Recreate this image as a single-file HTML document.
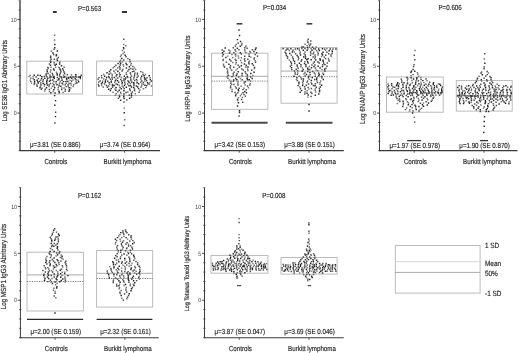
<!DOCTYPE html>
<html><head><meta charset="utf-8"><style>
html,body{margin:0;padding:0;background:#fff;}
svg{display:block;font-family:"Liberation Sans", sans-serif;filter:blur(0.42px);}
text{stroke:#333;stroke-width:0.15px;text-rendering:geometricPrecision;}
text.t{stroke:none;}
</style></head><body>
<svg width="520" height="353" viewBox="0 0 520 353">
<rect width="520" height="353" fill="#fff"/>
<line x1="20.0" y1="0.66" x2="20.0" y2="151.08" stroke="#5a5a5a" stroke-width="1.6"/>
<line x1="18.6" y1="150.58" x2="20.9" y2="150.58" stroke="#3a3a3a" stroke-width="0.7"/>
<line x1="18.6" y1="141.21" x2="20.9" y2="141.21" stroke="#3a3a3a" stroke-width="0.7"/>
<line x1="18.6" y1="131.84" x2="20.9" y2="131.84" stroke="#3a3a3a" stroke-width="0.7"/>
<line x1="18.6" y1="122.47" x2="20.9" y2="122.47" stroke="#3a3a3a" stroke-width="0.7"/>
<line x1="17.4" y1="113.10" x2="20.0" y2="113.10" stroke="#3a3a3a" stroke-width="0.9"/>
<line x1="18.6" y1="103.73" x2="20.9" y2="103.73" stroke="#3a3a3a" stroke-width="0.7"/>
<line x1="18.6" y1="94.36" x2="20.9" y2="94.36" stroke="#3a3a3a" stroke-width="0.7"/>
<line x1="18.6" y1="84.99" x2="20.9" y2="84.99" stroke="#3a3a3a" stroke-width="0.7"/>
<line x1="18.6" y1="75.62" x2="20.9" y2="75.62" stroke="#3a3a3a" stroke-width="0.7"/>
<line x1="17.4" y1="66.25" x2="20.0" y2="66.25" stroke="#3a3a3a" stroke-width="0.9"/>
<line x1="18.6" y1="56.88" x2="20.9" y2="56.88" stroke="#3a3a3a" stroke-width="0.7"/>
<line x1="18.6" y1="47.51" x2="20.9" y2="47.51" stroke="#3a3a3a" stroke-width="0.7"/>
<line x1="18.6" y1="38.14" x2="20.9" y2="38.14" stroke="#3a3a3a" stroke-width="0.7"/>
<line x1="18.6" y1="28.77" x2="20.9" y2="28.77" stroke="#3a3a3a" stroke-width="0.7"/>
<line x1="17.4" y1="19.40" x2="20.0" y2="19.40" stroke="#3a3a3a" stroke-width="0.9"/>
<line x1="18.6" y1="10.03" x2="20.9" y2="10.03" stroke="#3a3a3a" stroke-width="0.7"/>
<line x1="18.6" y1="0.66" x2="20.9" y2="0.66" stroke="#3a3a3a" stroke-width="0.7"/>
<text class="t" transform="translate(16.60,115.30) scale(1,1.18)" text-anchor="end" font-size="5.2" fill="#3a3a3a">0</text>
<text class="t" transform="translate(16.60,68.45) scale(1,1.18)" text-anchor="end" font-size="5.2" fill="#3a3a3a">5</text>
<text class="t" transform="translate(16.60,21.60) scale(1,1.18)" text-anchor="end" font-size="5.2" fill="#3a3a3a">10</text>
<line x1="19.5" y1="150.58" x2="160.0" y2="150.58" stroke="#3a3a3a" stroke-width="1.1"/>
<line x1="54.70" y1="150.58" x2="54.70" y2="152.78" stroke="#3a3a3a" stroke-width="0.8"/>
<line x1="124.50" y1="150.58" x2="124.50" y2="152.78" stroke="#3a3a3a" stroke-width="0.8"/>
<text transform="translate(55.90,164.20) scale(1,1.18)" text-anchor="middle" font-size="6.2" fill="#222">Controls</text>
<text transform="translate(127.50,164.20) scale(1,1.18)" text-anchor="middle" font-size="6.2" fill="#222">Burkitt lymphoma</text>
<text transform="translate(89.50,10.72) scale(1,1.18)" text-anchor="middle" font-size="6.2" fill="#222">P=0.563</text>
<text transform="translate(55.30,147.22) scale(1,1.18)" text-anchor="middle" font-size="6.2" fill="#222">μ=3.81 (SE 0.886)</text>
<text transform="translate(125.10,147.22) scale(1,1.18)" text-anchor="middle" font-size="6.2" fill="#222">μ=3.74 (SE 0.964)</text>
<text transform="translate(7.16,80.70) rotate(-90) scale(1,1.18)" text-anchor="middle" font-size="6.1" fill="#222">Log SE36 IgG1 Abritrary Units</text>
<line x1="204.5" y1="0.66" x2="204.5" y2="151.08" stroke="#3a3a3a" stroke-width="1.0"/>
<line x1="203.1" y1="150.58" x2="205.4" y2="150.58" stroke="#3a3a3a" stroke-width="0.7"/>
<line x1="203.1" y1="141.21" x2="205.4" y2="141.21" stroke="#3a3a3a" stroke-width="0.7"/>
<line x1="203.1" y1="131.84" x2="205.4" y2="131.84" stroke="#3a3a3a" stroke-width="0.7"/>
<line x1="203.1" y1="122.47" x2="205.4" y2="122.47" stroke="#3a3a3a" stroke-width="0.7"/>
<line x1="201.9" y1="113.10" x2="204.5" y2="113.10" stroke="#3a3a3a" stroke-width="0.9"/>
<line x1="203.1" y1="103.73" x2="205.4" y2="103.73" stroke="#3a3a3a" stroke-width="0.7"/>
<line x1="203.1" y1="94.36" x2="205.4" y2="94.36" stroke="#3a3a3a" stroke-width="0.7"/>
<line x1="203.1" y1="84.99" x2="205.4" y2="84.99" stroke="#3a3a3a" stroke-width="0.7"/>
<line x1="203.1" y1="75.62" x2="205.4" y2="75.62" stroke="#3a3a3a" stroke-width="0.7"/>
<line x1="201.9" y1="66.25" x2="204.5" y2="66.25" stroke="#3a3a3a" stroke-width="0.9"/>
<line x1="203.1" y1="56.88" x2="205.4" y2="56.88" stroke="#3a3a3a" stroke-width="0.7"/>
<line x1="203.1" y1="47.51" x2="205.4" y2="47.51" stroke="#3a3a3a" stroke-width="0.7"/>
<line x1="203.1" y1="38.14" x2="205.4" y2="38.14" stroke="#3a3a3a" stroke-width="0.7"/>
<line x1="203.1" y1="28.77" x2="205.4" y2="28.77" stroke="#3a3a3a" stroke-width="0.7"/>
<line x1="201.9" y1="19.40" x2="204.5" y2="19.40" stroke="#3a3a3a" stroke-width="0.9"/>
<line x1="203.1" y1="10.03" x2="205.4" y2="10.03" stroke="#3a3a3a" stroke-width="0.7"/>
<line x1="203.1" y1="0.66" x2="205.4" y2="0.66" stroke="#3a3a3a" stroke-width="0.7"/>
<text class="t" transform="translate(201.10,115.30) scale(1,1.18)" text-anchor="end" font-size="5.2" fill="#3a3a3a">0</text>
<text class="t" transform="translate(201.10,68.45) scale(1,1.18)" text-anchor="end" font-size="5.2" fill="#3a3a3a">5</text>
<text class="t" transform="translate(201.10,21.60) scale(1,1.18)" text-anchor="end" font-size="5.2" fill="#3a3a3a">10</text>
<line x1="204.0" y1="150.58" x2="343.8" y2="150.58" stroke="#3a3a3a" stroke-width="1.1"/>
<line x1="239.20" y1="150.58" x2="239.20" y2="152.78" stroke="#3a3a3a" stroke-width="0.8"/>
<line x1="309.00" y1="150.58" x2="309.00" y2="152.78" stroke="#3a3a3a" stroke-width="0.8"/>
<text transform="translate(240.40,164.20) scale(1,1.18)" text-anchor="middle" font-size="6.2" fill="#222">Controls</text>
<text transform="translate(312.00,164.20) scale(1,1.18)" text-anchor="middle" font-size="6.2" fill="#222">Burkitt lymphoma</text>
<text transform="translate(274.60,10.22) scale(1,1.18)" text-anchor="middle" font-size="6.2" fill="#222">P=0.034</text>
<text transform="translate(239.80,147.32) scale(1,1.18)" text-anchor="middle" font-size="6.2" fill="#222">μ=3.42 (SE 0.153)</text>
<text transform="translate(309.60,147.32) scale(1,1.18)" text-anchor="middle" font-size="6.2" fill="#222">μ=3.88 (SE 0.151)</text>
<text transform="translate(189.69,78.60) rotate(-90) scale(1,1.18)" text-anchor="middle" font-size="6.2" fill="#222">Log HRP-II IgG3 Abritrary Units</text>
<line x1="379.5" y1="0.66" x2="379.5" y2="151.08" stroke="#3a3a3a" stroke-width="1.0"/>
<line x1="378.1" y1="150.58" x2="380.4" y2="150.58" stroke="#3a3a3a" stroke-width="0.7"/>
<line x1="378.1" y1="141.21" x2="380.4" y2="141.21" stroke="#3a3a3a" stroke-width="0.7"/>
<line x1="378.1" y1="131.84" x2="380.4" y2="131.84" stroke="#3a3a3a" stroke-width="0.7"/>
<line x1="378.1" y1="122.47" x2="380.4" y2="122.47" stroke="#3a3a3a" stroke-width="0.7"/>
<line x1="376.9" y1="113.10" x2="379.5" y2="113.10" stroke="#3a3a3a" stroke-width="0.9"/>
<line x1="378.1" y1="103.73" x2="380.4" y2="103.73" stroke="#3a3a3a" stroke-width="0.7"/>
<line x1="378.1" y1="94.36" x2="380.4" y2="94.36" stroke="#3a3a3a" stroke-width="0.7"/>
<line x1="378.1" y1="84.99" x2="380.4" y2="84.99" stroke="#3a3a3a" stroke-width="0.7"/>
<line x1="378.1" y1="75.62" x2="380.4" y2="75.62" stroke="#3a3a3a" stroke-width="0.7"/>
<line x1="376.9" y1="66.25" x2="379.5" y2="66.25" stroke="#3a3a3a" stroke-width="0.9"/>
<line x1="378.1" y1="56.88" x2="380.4" y2="56.88" stroke="#3a3a3a" stroke-width="0.7"/>
<line x1="378.1" y1="47.51" x2="380.4" y2="47.51" stroke="#3a3a3a" stroke-width="0.7"/>
<line x1="378.1" y1="38.14" x2="380.4" y2="38.14" stroke="#3a3a3a" stroke-width="0.7"/>
<line x1="378.1" y1="28.77" x2="380.4" y2="28.77" stroke="#3a3a3a" stroke-width="0.7"/>
<line x1="376.9" y1="19.40" x2="379.5" y2="19.40" stroke="#3a3a3a" stroke-width="0.9"/>
<line x1="378.1" y1="10.03" x2="380.4" y2="10.03" stroke="#3a3a3a" stroke-width="0.7"/>
<line x1="378.1" y1="0.66" x2="380.4" y2="0.66" stroke="#3a3a3a" stroke-width="0.7"/>
<text class="t" transform="translate(376.10,115.30) scale(1,1.18)" text-anchor="end" font-size="5.2" fill="#3a3a3a">0</text>
<text class="t" transform="translate(376.10,68.45) scale(1,1.18)" text-anchor="end" font-size="5.2" fill="#3a3a3a">5</text>
<text class="t" transform="translate(376.10,21.60) scale(1,1.18)" text-anchor="end" font-size="5.2" fill="#3a3a3a">10</text>
<line x1="379.0" y1="150.58" x2="517.5" y2="150.58" stroke="#3a3a3a" stroke-width="1.1"/>
<line x1="414.20" y1="150.58" x2="414.20" y2="152.78" stroke="#3a3a3a" stroke-width="0.8"/>
<line x1="484.00" y1="150.58" x2="484.00" y2="152.78" stroke="#3a3a3a" stroke-width="0.8"/>
<text transform="translate(415.40,164.20) scale(1,1.18)" text-anchor="middle" font-size="6.2" fill="#222">Controls</text>
<text transform="translate(487.00,164.20) scale(1,1.18)" text-anchor="middle" font-size="6.2" fill="#222">Burkitt lymphoma</text>
<text transform="translate(450.10,10.12) scale(1,1.18)" text-anchor="middle" font-size="6.2" fill="#222">P=0.606</text>
<text transform="translate(414.80,148.32) scale(1,1.18)" text-anchor="middle" font-size="6.2" fill="#222">μ=1.97 (SE 0.978)</text>
<text transform="translate(484.60,148.32) scale(1,1.18)" text-anchor="middle" font-size="6.2" fill="#222">μ=1.90 (SE 0.870)</text>
<text transform="translate(365.13,79.00) rotate(-90) scale(1,1.18)" text-anchor="middle" font-size="6.3" fill="#222">Log 6NANP IgG3 Abritrary Units</text>
<line x1="20.4" y1="187.76" x2="20.4" y2="338.18" stroke="#3a3a3a" stroke-width="1.0"/>
<line x1="19.0" y1="337.68" x2="21.299999999999997" y2="337.68" stroke="#3a3a3a" stroke-width="0.7"/>
<line x1="19.0" y1="328.31" x2="21.299999999999997" y2="328.31" stroke="#3a3a3a" stroke-width="0.7"/>
<line x1="19.0" y1="318.94" x2="21.299999999999997" y2="318.94" stroke="#3a3a3a" stroke-width="0.7"/>
<line x1="19.0" y1="309.57" x2="21.299999999999997" y2="309.57" stroke="#3a3a3a" stroke-width="0.7"/>
<line x1="17.799999999999997" y1="300.20" x2="20.4" y2="300.20" stroke="#3a3a3a" stroke-width="0.9"/>
<line x1="19.0" y1="290.83" x2="21.299999999999997" y2="290.83" stroke="#3a3a3a" stroke-width="0.7"/>
<line x1="19.0" y1="281.46" x2="21.299999999999997" y2="281.46" stroke="#3a3a3a" stroke-width="0.7"/>
<line x1="19.0" y1="272.09" x2="21.299999999999997" y2="272.09" stroke="#3a3a3a" stroke-width="0.7"/>
<line x1="19.0" y1="262.72" x2="21.299999999999997" y2="262.72" stroke="#3a3a3a" stroke-width="0.7"/>
<line x1="17.799999999999997" y1="253.35" x2="20.4" y2="253.35" stroke="#3a3a3a" stroke-width="0.9"/>
<line x1="19.0" y1="243.98" x2="21.299999999999997" y2="243.98" stroke="#3a3a3a" stroke-width="0.7"/>
<line x1="19.0" y1="234.61" x2="21.299999999999997" y2="234.61" stroke="#3a3a3a" stroke-width="0.7"/>
<line x1="19.0" y1="225.24" x2="21.299999999999997" y2="225.24" stroke="#3a3a3a" stroke-width="0.7"/>
<line x1="19.0" y1="215.87" x2="21.299999999999997" y2="215.87" stroke="#3a3a3a" stroke-width="0.7"/>
<line x1="17.799999999999997" y1="206.50" x2="20.4" y2="206.50" stroke="#3a3a3a" stroke-width="0.9"/>
<line x1="19.0" y1="197.13" x2="21.299999999999997" y2="197.13" stroke="#3a3a3a" stroke-width="0.7"/>
<line x1="19.0" y1="187.76" x2="21.299999999999997" y2="187.76" stroke="#3a3a3a" stroke-width="0.7"/>
<text class="t" transform="translate(17.00,302.40) scale(1,1.18)" text-anchor="end" font-size="5.2" fill="#3a3a3a">0</text>
<text class="t" transform="translate(17.00,255.55) scale(1,1.18)" text-anchor="end" font-size="5.2" fill="#3a3a3a">5</text>
<text class="t" transform="translate(17.00,208.70) scale(1,1.18)" text-anchor="end" font-size="5.2" fill="#3a3a3a">10</text>
<line x1="19.9" y1="337.68" x2="158.7" y2="337.68" stroke="#3a3a3a" stroke-width="1.1"/>
<line x1="55.10" y1="337.68" x2="55.10" y2="339.88" stroke="#3a3a3a" stroke-width="0.8"/>
<line x1="124.90" y1="337.68" x2="124.90" y2="339.88" stroke="#3a3a3a" stroke-width="0.8"/>
<text transform="translate(56.30,351.30) scale(1,1.18)" text-anchor="middle" font-size="6.2" fill="#222">Controls</text>
<text transform="translate(127.90,351.30) scale(1,1.18)" text-anchor="middle" font-size="6.2" fill="#222">Burkitt lymphoma</text>
<text transform="translate(89.50,198.02) scale(1,1.18)" text-anchor="middle" font-size="6.2" fill="#222">P=0.162</text>
<text transform="translate(55.70,334.42) scale(1,1.18)" text-anchor="middle" font-size="6.2" fill="#222">μ=2.00 (SE 0.159)</text>
<text transform="translate(125.50,334.42) scale(1,1.18)" text-anchor="middle" font-size="6.2" fill="#222">μ=2.32 (SE 0.161)</text>
<text transform="translate(5.81,266.60) rotate(-90) scale(1,1.18)" text-anchor="middle" font-size="6.25" fill="#222">Log MSP1 IgG3 Abritrary Units</text>
<line x1="204.5" y1="187.76" x2="204.5" y2="338.18" stroke="#3a3a3a" stroke-width="1.0"/>
<line x1="203.1" y1="337.68" x2="205.4" y2="337.68" stroke="#3a3a3a" stroke-width="0.7"/>
<line x1="203.1" y1="328.31" x2="205.4" y2="328.31" stroke="#3a3a3a" stroke-width="0.7"/>
<line x1="203.1" y1="318.94" x2="205.4" y2="318.94" stroke="#3a3a3a" stroke-width="0.7"/>
<line x1="203.1" y1="309.57" x2="205.4" y2="309.57" stroke="#3a3a3a" stroke-width="0.7"/>
<line x1="201.9" y1="300.20" x2="204.5" y2="300.20" stroke="#3a3a3a" stroke-width="0.9"/>
<line x1="203.1" y1="290.83" x2="205.4" y2="290.83" stroke="#3a3a3a" stroke-width="0.7"/>
<line x1="203.1" y1="281.46" x2="205.4" y2="281.46" stroke="#3a3a3a" stroke-width="0.7"/>
<line x1="203.1" y1="272.09" x2="205.4" y2="272.09" stroke="#3a3a3a" stroke-width="0.7"/>
<line x1="203.1" y1="262.72" x2="205.4" y2="262.72" stroke="#3a3a3a" stroke-width="0.7"/>
<line x1="201.9" y1="253.35" x2="204.5" y2="253.35" stroke="#3a3a3a" stroke-width="0.9"/>
<line x1="203.1" y1="243.98" x2="205.4" y2="243.98" stroke="#3a3a3a" stroke-width="0.7"/>
<line x1="203.1" y1="234.61" x2="205.4" y2="234.61" stroke="#3a3a3a" stroke-width="0.7"/>
<line x1="203.1" y1="225.24" x2="205.4" y2="225.24" stroke="#3a3a3a" stroke-width="0.7"/>
<line x1="203.1" y1="215.87" x2="205.4" y2="215.87" stroke="#3a3a3a" stroke-width="0.7"/>
<line x1="201.9" y1="206.50" x2="204.5" y2="206.50" stroke="#3a3a3a" stroke-width="0.9"/>
<line x1="203.1" y1="197.13" x2="205.4" y2="197.13" stroke="#3a3a3a" stroke-width="0.7"/>
<line x1="203.1" y1="187.76" x2="205.4" y2="187.76" stroke="#3a3a3a" stroke-width="0.7"/>
<text class="t" transform="translate(201.10,302.40) scale(1,1.18)" text-anchor="end" font-size="5.2" fill="#3a3a3a">0</text>
<text class="t" transform="translate(201.10,255.55) scale(1,1.18)" text-anchor="end" font-size="5.2" fill="#3a3a3a">5</text>
<text class="t" transform="translate(201.10,208.70) scale(1,1.18)" text-anchor="end" font-size="5.2" fill="#3a3a3a">10</text>
<line x1="204.0" y1="337.68" x2="343.8" y2="337.68" stroke="#3a3a3a" stroke-width="1.1"/>
<line x1="239.20" y1="337.68" x2="239.20" y2="339.88" stroke="#3a3a3a" stroke-width="0.8"/>
<line x1="309.00" y1="337.68" x2="309.00" y2="339.88" stroke="#3a3a3a" stroke-width="0.8"/>
<text transform="translate(240.40,351.30) scale(1,1.18)" text-anchor="middle" font-size="6.2" fill="#222">Controls</text>
<text transform="translate(312.00,351.30) scale(1,1.18)" text-anchor="middle" font-size="6.2" fill="#222">Burkitt lymphoma</text>
<text transform="translate(273.80,197.92) scale(1,1.18)" text-anchor="middle" font-size="6.2" fill="#222">P=0.008</text>
<text transform="translate(239.80,334.02) scale(1,1.18)" text-anchor="middle" font-size="6.2" fill="#222">μ=3.87 (SE 0.047)</text>
<text transform="translate(309.60,334.02) scale(1,1.18)" text-anchor="middle" font-size="6.2" fill="#222">μ=3.69 (SE 0.046)</text>
<text transform="translate(189.33,263.50) rotate(-90) scale(1,1.18)" text-anchor="middle" font-size="5.45" fill="#222">Log Tetanus Toxoid IgG3 Abritrary Units</text>
<rect x="26.8" y="61.2" width="55.80" height="32.80" fill="none" stroke="#b4b4b4" stroke-width="0.9"/>
<rect x="96.6" y="61.1" width="55.90" height="34.30" fill="none" stroke="#b4b4b4" stroke-width="0.9"/>
<rect x="211.5" y="53.2" width="56.40" height="56.10" fill="none" stroke="#b4b4b4" stroke-width="0.9"/>
<line x1="211.5" y1="76.3" x2="267.9" y2="76.3" stroke="#a0a0a0" stroke-width="0.9"/>
<line x1="211.5" y1="81.1" x2="267.9" y2="81.1" stroke="#777" stroke-width="0.9" stroke-dasharray="1.3 1.1"/>
<rect x="281.0" y="47.6" width="56.10" height="55.60" fill="none" stroke="#b4b4b4" stroke-width="0.9"/>
<line x1="281.0" y1="71.1" x2="337.1" y2="71.1" stroke="#a0a0a0" stroke-width="0.9"/>
<line x1="281.0" y1="76.7" x2="337.1" y2="76.7" stroke="#777" stroke-width="0.9" stroke-dasharray="1.3 1.1"/>
<rect x="386.5" y="77.0" width="56.70" height="35.20" fill="none" stroke="#b4b4b4" stroke-width="0.9"/>
<rect x="456.3" y="80.6" width="55.90" height="30.50" fill="none" stroke="#b4b4b4" stroke-width="0.9"/>
<rect x="27.0" y="252.2" width="56.40" height="58.80" fill="none" stroke="#b4b4b4" stroke-width="0.9"/>
<line x1="27.0" y1="274.9" x2="83.4" y2="274.9" stroke="#a0a0a0" stroke-width="0.9"/>
<line x1="27.0" y1="281.5" x2="83.4" y2="281.5" stroke="#777" stroke-width="0.9" stroke-dasharray="1.3 1.1"/>
<rect x="96.6" y="250.6" width="56.10" height="56.50" fill="none" stroke="#b4b4b4" stroke-width="0.9"/>
<line x1="96.6" y1="273.3" x2="152.7" y2="273.3" stroke="#a0a0a0" stroke-width="0.9"/>
<line x1="96.6" y1="278.5" x2="152.7" y2="278.5" stroke="#777" stroke-width="0.9" stroke-dasharray="1.3 1.1"/>
<rect x="211.0" y="255.4" width="56.90" height="17.80" fill="none" stroke="#b4b4b4" stroke-width="0.9"/>
<rect x="281.0" y="257.5" width="56.10" height="16.60" fill="none" stroke="#b4b4b4" stroke-width="0.9"/>
<line x1="211.5" y1="122.8" x2="267.6" y2="122.8" stroke="#4a4a4a" stroke-width="1.9"/>
<line x1="285.8" y1="122.8" x2="332.5" y2="122.8" stroke="#4a4a4a" stroke-width="1.9"/>
<line x1="27.0" y1="319.4" x2="83.2" y2="319.4" stroke="#2a2a2a" stroke-width="1.4"/>
<line x1="96.6" y1="319.4" x2="152.4" y2="319.4" stroke="#2a2a2a" stroke-width="1.4"/>
<line x1="407.2" y1="140.6" x2="421.1" y2="140.6" stroke="#333" stroke-width="1.3"/>
<line x1="479.9" y1="140.6" x2="488.0" y2="140.6" stroke="#333" stroke-width="1.3"/>
<line x1="52.9" y1="12.0" x2="56.7" y2="12.0" stroke="#333" stroke-width="2.0"/>
<line x1="121.9" y1="12.0" x2="127.0" y2="12.0" stroke="#333" stroke-width="2.0"/>
<line x1="236.6" y1="23.8" x2="242.4" y2="23.8" stroke="#444" stroke-width="1.6"/>
<line x1="306.5" y1="23.8" x2="312.3" y2="23.8" stroke="#444" stroke-width="1.6"/>
<line x1="237.0" y1="285.6" x2="241.2" y2="285.6" stroke="#555" stroke-width="1.3"/>
<line x1="307.6" y1="285.6" x2="311.2" y2="285.6" stroke="#555" stroke-width="1.3"/>
<rect x="395.3" y="245.5" width="84.8" height="47.6" fill="none" stroke="#b4b4b4" stroke-width="0.9"/>
<line x1="395.3" y1="261.7" x2="480.1" y2="261.7" stroke="#d2d2d2" stroke-width="0.9"/>
<line x1="395.3" y1="272.4" x2="480.1" y2="272.4" stroke="#a0a0a0" stroke-width="0.9"/>
<text transform="translate(485.00,248.20) scale(1,1.18)" text-anchor="start" font-size="6.4" fill="#222">1 SD</text>
<text transform="translate(485.00,265.70) scale(1,1.18)" text-anchor="start" font-size="6.4" fill="#222">Mean</text>
<text transform="translate(485.00,275.80) scale(1,1.18)" text-anchor="start" font-size="6.4" fill="#222">50%</text>
<text transform="translate(485.00,295.70) scale(1,1.18)" text-anchor="start" font-size="6.4" fill="#222">-1 SD</text>
<path d="M54.1 43.7h1.45v1.45h-1.45zM54.0 47.0h1.45v1.45h-1.45zM56.6 50.2h1.45v1.45h-1.45zM52.2 52.2h1.45v1.45h-1.45zM55.7 54.0h1.45v1.45h-1.45zM55.5 55.0h1.45v1.45h-1.45zM49.9 56.7h1.45v1.45h-1.45zM56.5 58.2h1.45v1.45h-1.45zM56.7 59.9h1.45v1.45h-1.45zM50.0 61.6h1.45v1.45h-1.45zM55.6 63.6h1.45v1.45h-1.45zM58.9 63.2h1.45v1.45h-1.45zM54.4 64.6h1.45v1.45h-1.45zM60.8 65.1h1.45v1.45h-1.45zM47.2 66.7h1.45v1.45h-1.45zM52.9 68.2h1.45v1.45h-1.45zM59.2 68.3h1.45v1.45h-1.45zM46.4 69.3h1.45v1.45h-1.45zM53.5 69.4h1.45v1.45h-1.45zM59.8 69.4h1.45v1.45h-1.45zM46.5 71.0h1.45v1.45h-1.45zM63.3 71.2h1.45v1.45h-1.45zM45.5 73.2h1.45v1.45h-1.45zM56.3 72.9h1.45v1.45h-1.45zM33.6 74.5h1.45v1.45h-1.45zM37.2 74.6h1.45v1.45h-1.45zM39.6 74.8h1.45v1.45h-1.45zM49.3 74.4h1.45v1.45h-1.45zM56.6 74.2h1.45v1.45h-1.45zM58.9 74.3h1.45v1.45h-1.45zM75.1 74.1h1.45v1.45h-1.45zM41.2 76.1h1.45v1.45h-1.45zM50.0 76.3h1.45v1.45h-1.45zM53.3 75.7h1.45v1.45h-1.45zM63.7 76.1h1.45v1.45h-1.45zM75.2 75.8h1.45v1.45h-1.45zM79.8 76.1h1.45v1.45h-1.45zM40.8 77.9h1.45v1.45h-1.45zM44.1 77.5h1.45v1.45h-1.45zM47.1 77.6h1.45v1.45h-1.45zM53.5 77.5h1.45v1.45h-1.45zM58.1 78.0h1.45v1.45h-1.45zM65.8 78.0h1.45v1.45h-1.45zM67.8 77.5h1.45v1.45h-1.45zM71.0 77.5h1.45v1.45h-1.45zM74.4 77.8h1.45v1.45h-1.45zM33.5 79.0h1.45v1.45h-1.45zM36.4 79.6h1.45v1.45h-1.45zM46.5 79.2h1.45v1.45h-1.45zM49.8 79.6h1.45v1.45h-1.45zM52.1 79.2h1.45v1.45h-1.45zM58.1 79.0h1.45v1.45h-1.45zM61.3 79.6h1.45v1.45h-1.45zM33.9 80.8h1.45v1.45h-1.45zM46.0 80.7h1.45v1.45h-1.45zM48.8 80.6h1.45v1.45h-1.45zM55.4 80.9h1.45v1.45h-1.45zM62.8 80.9h1.45v1.45h-1.45zM65.2 80.9h1.45v1.45h-1.45zM67.2 80.8h1.45v1.45h-1.45zM77.9 81.0h1.45v1.45h-1.45zM33.8 82.5h1.45v1.45h-1.45zM37.5 82.2h1.45v1.45h-1.45zM42.5 82.7h1.45v1.45h-1.45zM46.1 82.5h1.45v1.45h-1.45zM61.5 82.5h1.45v1.45h-1.45zM76.1 82.2h1.45v1.45h-1.45zM40.2 84.3h1.45v1.45h-1.45zM43.8 83.8h1.45v1.45h-1.45zM46.5 84.2h1.45v1.45h-1.45zM48.4 84.3h1.45v1.45h-1.45zM53.2 83.9h1.45v1.45h-1.45zM56.3 84.0h1.45v1.45h-1.45zM58.4 84.4h1.45v1.45h-1.45zM36.4 85.3h1.45v1.45h-1.45zM60.1 85.6h1.45v1.45h-1.45zM67.4 85.4h1.45v1.45h-1.45zM39.3 87.0h1.45v1.45h-1.45zM45.8 87.0h1.45v1.45h-1.45zM53.9 87.0h1.45v1.45h-1.45zM68.4 87.1h1.45v1.45h-1.45zM53.2 89.1h1.45v1.45h-1.45zM68.8 89.0h1.45v1.45h-1.45zM58.3 90.5h1.45v1.45h-1.45zM64.5 90.4h1.45v1.45h-1.45zM68.2 90.6h1.45v1.45h-1.45zM50.1 92.0h1.45v1.45h-1.45zM54.4 92.2h1.45v1.45h-1.45zM58.5 92.0h1.45v1.45h-1.45zM53.9 94.9h1.45v1.45h-1.45zM54.8 99.9h1.45v1.45h-1.45zM54.1 104.5h1.45v1.45h-1.45zM54.7 115.9h1.45v1.45h-1.45zM122.8 46.9h1.45v1.45h-1.45zM124.5 54.5h1.45v1.45h-1.45zM121.1 57.8h1.45v1.45h-1.45zM117.4 62.8h1.45v1.45h-1.45zM119.9 62.6h1.45v1.45h-1.45zM125.3 62.8h1.45v1.45h-1.45zM119.5 64.3h1.45v1.45h-1.45zM126.1 64.1h1.45v1.45h-1.45zM128.6 66.0h1.45v1.45h-1.45zM119.3 67.2h1.45v1.45h-1.45zM125.7 67.2h1.45v1.45h-1.45zM110.0 69.1h1.45v1.45h-1.45zM128.3 68.8h1.45v1.45h-1.45zM108.8 70.7h1.45v1.45h-1.45zM113.2 70.4h1.45v1.45h-1.45zM117.1 70.6h1.45v1.45h-1.45zM127.1 70.4h1.45v1.45h-1.45zM106.3 72.0h1.45v1.45h-1.45zM129.7 72.2h1.45v1.45h-1.45zM108.4 73.6h1.45v1.45h-1.45zM116.1 74.0h1.45v1.45h-1.45zM119.3 74.0h1.45v1.45h-1.45zM103.9 75.6h1.45v1.45h-1.45zM123.6 75.6h1.45v1.45h-1.45zM126.5 75.7h1.45v1.45h-1.45zM141.0 75.5h1.45v1.45h-1.45zM143.4 75.1h1.45v1.45h-1.45zM148.5 75.1h1.45v1.45h-1.45zM105.9 76.8h1.45v1.45h-1.45zM108.4 76.8h1.45v1.45h-1.45zM113.7 76.7h1.45v1.45h-1.45zM124.9 77.3h1.45v1.45h-1.45zM143.8 76.9h1.45v1.45h-1.45zM97.4 78.4h1.45v1.45h-1.45zM109.6 78.4h1.45v1.45h-1.45zM111.6 78.4h1.45v1.45h-1.45zM123.2 78.2h1.45v1.45h-1.45zM135.7 78.9h1.45v1.45h-1.45zM143.9 78.4h1.45v1.45h-1.45zM145.2 78.3h1.45v1.45h-1.45zM149.6 78.7h1.45v1.45h-1.45zM104.7 80.2h1.45v1.45h-1.45zM107.0 80.4h1.45v1.45h-1.45zM110.6 80.5h1.45v1.45h-1.45zM114.7 80.0h1.45v1.45h-1.45zM116.8 80.0h1.45v1.45h-1.45zM121.1 80.3h1.45v1.45h-1.45zM127.3 80.2h1.45v1.45h-1.45zM150.7 80.3h1.45v1.45h-1.45zM101.6 81.9h1.45v1.45h-1.45zM104.6 81.6h1.45v1.45h-1.45zM108.4 82.1h1.45v1.45h-1.45zM121.5 81.9h1.45v1.45h-1.45zM128.3 81.6h1.45v1.45h-1.45zM133.0 82.0h1.45v1.45h-1.45zM136.4 82.1h1.45v1.45h-1.45zM146.8 82.1h1.45v1.45h-1.45zM100.8 83.1h1.45v1.45h-1.45zM116.9 83.7h1.45v1.45h-1.45zM133.2 83.3h1.45v1.45h-1.45zM137.9 83.1h1.45v1.45h-1.45zM98.1 85.3h1.45v1.45h-1.45zM111.8 84.7h1.45v1.45h-1.45zM113.4 84.7h1.45v1.45h-1.45zM123.7 84.8h1.45v1.45h-1.45zM128.3 85.1h1.45v1.45h-1.45zM135.7 85.2h1.45v1.45h-1.45zM144.3 84.6h1.45v1.45h-1.45zM111.8 86.4h1.45v1.45h-1.45zM115.3 86.7h1.45v1.45h-1.45zM125.6 86.5h1.45v1.45h-1.45zM130.8 86.3h1.45v1.45h-1.45zM133.0 86.8h1.45v1.45h-1.45zM137.0 86.3h1.45v1.45h-1.45zM108.0 88.5h1.45v1.45h-1.45zM110.5 87.9h1.45v1.45h-1.45zM120.6 88.1h1.45v1.45h-1.45zM129.0 88.3h1.45v1.45h-1.45zM133.8 88.4h1.45v1.45h-1.45zM137.9 87.9h1.45v1.45h-1.45zM109.7 89.7h1.45v1.45h-1.45zM115.2 89.6h1.45v1.45h-1.45zM118.5 89.6h1.45v1.45h-1.45zM123.1 90.0h1.45v1.45h-1.45zM125.3 91.7h1.45v1.45h-1.45zM138.4 91.4h1.45v1.45h-1.45zM123.2 93.2h1.45v1.45h-1.45zM130.7 92.7h1.45v1.45h-1.45zM128.5 94.4h1.45v1.45h-1.45zM130.8 94.5h1.45v1.45h-1.45zM118.8 96.0h1.45v1.45h-1.45zM123.0 96.0h1.45v1.45h-1.45zM123.4 97.8h1.45v1.45h-1.45zM128.9 97.5h1.45v1.45h-1.45zM119.9 99.5h1.45v1.45h-1.45zM123.5 112.1h1.45v1.45h-1.45zM236.7 38.9h1.45v1.45h-1.45zM239.8 40.8h1.45v1.45h-1.45zM237.4 42.4h1.45v1.45h-1.45zM234.6 45.4h1.45v1.45h-1.45zM239.5 45.6h1.45v1.45h-1.45zM245.2 45.4h1.45v1.45h-1.45zM224.5 47.3h1.45v1.45h-1.45zM236.6 47.5h1.45v1.45h-1.45zM255.3 47.3h1.45v1.45h-1.45zM254.7 48.7h1.45v1.45h-1.45zM223.2 50.5h1.45v1.45h-1.45zM253.2 50.7h1.45v1.45h-1.45zM221.8 52.1h1.45v1.45h-1.45zM228.8 52.2h1.45v1.45h-1.45zM239.6 52.0h1.45v1.45h-1.45zM222.6 53.9h1.45v1.45h-1.45zM248.4 55.5h1.45v1.45h-1.45zM256.8 55.4h1.45v1.45h-1.45zM225.2 56.7h1.45v1.45h-1.45zM229.0 58.7h1.45v1.45h-1.45zM243.8 58.3h1.45v1.45h-1.45zM253.4 58.2h1.45v1.45h-1.45zM235.3 59.8h1.45v1.45h-1.45zM244.2 60.2h1.45v1.45h-1.45zM225.7 61.4h1.45v1.45h-1.45zM228.2 63.5h1.45v1.45h-1.45zM243.7 63.3h1.45v1.45h-1.45zM248.3 63.1h1.45v1.45h-1.45zM251.5 63.0h1.45v1.45h-1.45zM240.6 65.0h1.45v1.45h-1.45zM223.8 66.3h1.45v1.45h-1.45zM238.7 66.2h1.45v1.45h-1.45zM247.3 66.2h1.45v1.45h-1.45zM253.8 66.7h1.45v1.45h-1.45zM226.8 71.3h1.45v1.45h-1.45zM237.5 71.1h1.45v1.45h-1.45zM253.3 71.5h1.45v1.45h-1.45zM241.4 72.7h1.45v1.45h-1.45zM250.1 72.8h1.45v1.45h-1.45zM227.4 74.6h1.45v1.45h-1.45zM235.7 74.5h1.45v1.45h-1.45zM246.6 74.3h1.45v1.45h-1.45zM231.3 75.9h1.45v1.45h-1.45zM235.0 77.8h1.45v1.45h-1.45zM246.4 77.7h1.45v1.45h-1.45zM251.4 77.8h1.45v1.45h-1.45zM233.0 79.3h1.45v1.45h-1.45zM236.1 79.1h1.45v1.45h-1.45zM246.8 79.0h1.45v1.45h-1.45zM248.5 79.0h1.45v1.45h-1.45zM244.4 81.0h1.45v1.45h-1.45zM230.1 82.4h1.45v1.45h-1.45zM229.8 85.4h1.45v1.45h-1.45zM235.5 87.2h1.45v1.45h-1.45zM237.6 88.8h1.45v1.45h-1.45zM237.8 90.1h1.45v1.45h-1.45zM244.1 90.7h1.45v1.45h-1.45zM242.3 91.9h1.45v1.45h-1.45zM245.7 92.0h1.45v1.45h-1.45zM234.9 95.0h1.45v1.45h-1.45zM244.6 95.4h1.45v1.45h-1.45zM236.8 98.8h1.45v1.45h-1.45zM237.7 102.0h1.45v1.45h-1.45zM238.3 29.3h1.45v1.45h-1.45zM238.8 34.7h1.45v1.45h-1.45zM236.8 105.3h1.45v1.45h-1.45zM238.8 110.0h1.45v1.45h-1.45zM238.8 111.8h1.45v1.45h-1.45zM307.2 41.6h1.45v1.45h-1.45zM301.3 46.3h1.45v1.45h-1.45zM306.8 46.7h1.45v1.45h-1.45zM311.8 46.4h1.45v1.45h-1.45zM282.4 47.9h1.45v1.45h-1.45zM286.4 48.2h1.45v1.45h-1.45zM290.2 48.0h1.45v1.45h-1.45zM296.8 48.0h1.45v1.45h-1.45zM318.0 48.2h1.45v1.45h-1.45zM321.7 48.0h1.45v1.45h-1.45zM329.5 48.3h1.45v1.45h-1.45zM335.2 48.2h1.45v1.45h-1.45zM302.6 49.5h1.45v1.45h-1.45zM306.4 49.6h1.45v1.45h-1.45zM311.3 49.6h1.45v1.45h-1.45zM318.7 49.8h1.45v1.45h-1.45zM328.4 50.0h1.45v1.45h-1.45zM291.6 51.3h1.45v1.45h-1.45zM309.9 51.3h1.45v1.45h-1.45zM322.4 51.5h1.45v1.45h-1.45zM331.6 51.0h1.45v1.45h-1.45zM285.3 52.8h1.45v1.45h-1.45zM289.0 52.8h1.45v1.45h-1.45zM321.2 53.1h1.45v1.45h-1.45zM285.7 54.8h1.45v1.45h-1.45zM296.4 54.7h1.45v1.45h-1.45zM299.8 54.3h1.45v1.45h-1.45zM304.5 54.2h1.45v1.45h-1.45zM309.8 54.4h1.45v1.45h-1.45zM321.8 54.3h1.45v1.45h-1.45zM303.0 56.3h1.45v1.45h-1.45zM304.8 56.3h1.45v1.45h-1.45zM314.5 56.3h1.45v1.45h-1.45zM323.6 56.4h1.45v1.45h-1.45zM286.9 57.4h1.45v1.45h-1.45zM292.4 57.9h1.45v1.45h-1.45zM304.9 57.9h1.45v1.45h-1.45zM307.4 58.0h1.45v1.45h-1.45zM319.3 58.0h1.45v1.45h-1.45zM306.2 59.0h1.45v1.45h-1.45zM310.5 59.0h1.45v1.45h-1.45zM315.0 59.3h1.45v1.45h-1.45zM319.5 59.5h1.45v1.45h-1.45zM322.3 59.5h1.45v1.45h-1.45zM293.8 60.8h1.45v1.45h-1.45zM306.8 61.0h1.45v1.45h-1.45zM313.6 61.2h1.45v1.45h-1.45zM317.2 61.2h1.45v1.45h-1.45zM322.5 60.9h1.45v1.45h-1.45zM298.7 62.5h1.45v1.45h-1.45zM303.8 62.7h1.45v1.45h-1.45zM307.4 62.4h1.45v1.45h-1.45zM323.0 62.4h1.45v1.45h-1.45zM290.8 64.4h1.45v1.45h-1.45zM300.2 64.0h1.45v1.45h-1.45zM305.1 64.1h1.45v1.45h-1.45zM324.2 63.9h1.45v1.45h-1.45zM305.2 65.8h1.45v1.45h-1.45zM313.2 65.7h1.45v1.45h-1.45zM317.4 65.5h1.45v1.45h-1.45zM321.7 65.7h1.45v1.45h-1.45zM326.3 65.4h1.45v1.45h-1.45zM290.8 67.0h1.45v1.45h-1.45zM307.0 67.5h1.45v1.45h-1.45zM310.8 67.1h1.45v1.45h-1.45zM319.4 67.2h1.45v1.45h-1.45zM302.5 68.9h1.45v1.45h-1.45zM307.3 68.8h1.45v1.45h-1.45zM323.9 68.6h1.45v1.45h-1.45zM301.5 70.6h1.45v1.45h-1.45zM324.2 70.3h1.45v1.45h-1.45zM309.2 71.8h1.45v1.45h-1.45zM318.0 72.4h1.45v1.45h-1.45zM305.8 73.8h1.45v1.45h-1.45zM318.5 73.7h1.45v1.45h-1.45zM322.8 73.8h1.45v1.45h-1.45zM293.4 75.5h1.45v1.45h-1.45zM308.1 75.5h1.45v1.45h-1.45zM318.0 75.1h1.45v1.45h-1.45zM296.2 77.1h1.45v1.45h-1.45zM311.5 76.7h1.45v1.45h-1.45zM316.1 77.2h1.45v1.45h-1.45zM302.7 78.3h1.45v1.45h-1.45zM315.9 78.7h1.45v1.45h-1.45zM322.6 78.7h1.45v1.45h-1.45zM302.5 80.3h1.45v1.45h-1.45zM306.8 80.4h1.45v1.45h-1.45zM310.6 79.8h1.45v1.45h-1.45zM298.2 81.5h1.45v1.45h-1.45zM311.0 83.3h1.45v1.45h-1.45zM297.3 84.9h1.45v1.45h-1.45zM301.9 84.9h1.45v1.45h-1.45zM314.3 85.0h1.45v1.45h-1.45zM320.9 84.6h1.45v1.45h-1.45zM319.6 86.3h1.45v1.45h-1.45zM304.4 88.3h1.45v1.45h-1.45zM300.8 89.9h1.45v1.45h-1.45zM318.9 89.6h1.45v1.45h-1.45zM299.4 91.6h1.45v1.45h-1.45zM306.3 92.6h1.45v1.45h-1.45zM318.0 93.2h1.45v1.45h-1.45zM307.5 94.2h1.45v1.45h-1.45zM314.6 94.6h1.45v1.45h-1.45zM308.3 103.8h1.45v1.45h-1.45zM308.3 110.3h1.45v1.45h-1.45zM412.3 68.7h1.45v1.45h-1.45zM410.7 70.6h1.45v1.45h-1.45zM414.0 70.6h1.45v1.45h-1.45zM410.2 71.8h1.45v1.45h-1.45zM406.2 76.8h1.45v1.45h-1.45zM410.4 77.1h1.45v1.45h-1.45zM416.1 77.0h1.45v1.45h-1.45zM412.8 78.3h1.45v1.45h-1.45zM416.0 78.2h1.45v1.45h-1.45zM422.2 79.9h1.45v1.45h-1.45zM397.0 82.0h1.45v1.45h-1.45zM401.0 81.4h1.45v1.45h-1.45zM403.3 82.0h1.45v1.45h-1.45zM415.0 81.9h1.45v1.45h-1.45zM432.8 82.0h1.45v1.45h-1.45zM390.9 83.1h1.45v1.45h-1.45zM396.3 83.4h1.45v1.45h-1.45zM406.8 83.1h1.45v1.45h-1.45zM414.8 83.5h1.45v1.45h-1.45zM418.2 83.1h1.45v1.45h-1.45zM420.6 83.4h1.45v1.45h-1.45zM425.2 83.4h1.45v1.45h-1.45zM428.1 83.5h1.45v1.45h-1.45zM432.5 83.5h1.45v1.45h-1.45zM439.1 83.6h1.45v1.45h-1.45zM395.8 84.8h1.45v1.45h-1.45zM397.7 84.8h1.45v1.45h-1.45zM409.1 84.6h1.45v1.45h-1.45zM413.1 85.1h1.45v1.45h-1.45zM423.6 84.6h1.45v1.45h-1.45zM433.6 84.9h1.45v1.45h-1.45zM435.9 85.2h1.45v1.45h-1.45zM439.9 84.7h1.45v1.45h-1.45zM397.8 86.1h1.45v1.45h-1.45zM402.3 86.5h1.45v1.45h-1.45zM405.6 86.6h1.45v1.45h-1.45zM413.1 86.2h1.45v1.45h-1.45zM419.5 86.3h1.45v1.45h-1.45zM425.6 86.5h1.45v1.45h-1.45zM433.7 86.7h1.45v1.45h-1.45zM441.6 86.4h1.45v1.45h-1.45zM387.7 88.3h1.45v1.45h-1.45zM397.4 87.9h1.45v1.45h-1.45zM411.8 87.8h1.45v1.45h-1.45zM414.3 88.4h1.45v1.45h-1.45zM418.6 87.9h1.45v1.45h-1.45zM433.2 88.4h1.45v1.45h-1.45zM440.9 88.3h1.45v1.45h-1.45zM388.7 89.9h1.45v1.45h-1.45zM401.2 89.8h1.45v1.45h-1.45zM406.4 90.0h1.45v1.45h-1.45zM409.2 89.5h1.45v1.45h-1.45zM413.0 89.4h1.45v1.45h-1.45zM416.0 90.0h1.45v1.45h-1.45zM419.0 89.5h1.45v1.45h-1.45zM427.5 89.5h1.45v1.45h-1.45zM441.0 89.7h1.45v1.45h-1.45zM394.2 91.4h1.45v1.45h-1.45zM399.7 91.1h1.45v1.45h-1.45zM406.7 90.9h1.45v1.45h-1.45zM409.3 91.5h1.45v1.45h-1.45zM420.0 91.1h1.45v1.45h-1.45zM422.7 91.0h1.45v1.45h-1.45zM428.1 91.0h1.45v1.45h-1.45zM431.1 91.2h1.45v1.45h-1.45zM441.2 91.0h1.45v1.45h-1.45zM387.5 92.8h1.45v1.45h-1.45zM394.8 93.1h1.45v1.45h-1.45zM403.3 93.1h1.45v1.45h-1.45zM408.8 93.1h1.45v1.45h-1.45zM426.0 93.0h1.45v1.45h-1.45zM437.7 92.8h1.45v1.45h-1.45zM390.4 94.5h1.45v1.45h-1.45zM392.7 94.3h1.45v1.45h-1.45zM411.8 94.4h1.45v1.45h-1.45zM416.7 94.1h1.45v1.45h-1.45zM426.2 94.5h1.45v1.45h-1.45zM432.2 94.6h1.45v1.45h-1.45zM438.9 94.4h1.45v1.45h-1.45zM398.5 95.8h1.45v1.45h-1.45zM407.4 96.1h1.45v1.45h-1.45zM420.8 96.4h1.45v1.45h-1.45zM424.3 96.1h1.45v1.45h-1.45zM410.6 98.0h1.45v1.45h-1.45zM432.4 97.6h1.45v1.45h-1.45zM412.9 99.5h1.45v1.45h-1.45zM421.4 99.3h1.45v1.45h-1.45zM402.3 100.6h1.45v1.45h-1.45zM411.9 100.6h1.45v1.45h-1.45zM430.7 100.6h1.45v1.45h-1.45zM427.8 102.2h1.45v1.45h-1.45zM407.6 104.0h1.45v1.45h-1.45zM411.3 103.9h1.45v1.45h-1.45zM414.1 104.4h1.45v1.45h-1.45zM421.7 104.0h1.45v1.45h-1.45zM426.6 104.3h1.45v1.45h-1.45zM409.7 105.7h1.45v1.45h-1.45zM414.9 105.5h1.45v1.45h-1.45zM418.2 105.8h1.45v1.45h-1.45zM422.8 105.5h1.45v1.45h-1.45zM415.5 108.8h1.45v1.45h-1.45zM418.3 110.3h1.45v1.45h-1.45zM411.9 112.2h1.45v1.45h-1.45zM484.1 62.6h1.45v1.45h-1.45zM480.4 72.2h1.45v1.45h-1.45zM481.6 74.1h1.45v1.45h-1.45zM485.0 75.4h1.45v1.45h-1.45zM476.8 77.5h1.45v1.45h-1.45zM483.4 77.4h1.45v1.45h-1.45zM490.3 77.1h1.45v1.45h-1.45zM480.6 79.1h1.45v1.45h-1.45zM475.7 80.5h1.45v1.45h-1.45zM474.7 82.0h1.45v1.45h-1.45zM483.3 82.3h1.45v1.45h-1.45zM489.2 82.3h1.45v1.45h-1.45zM490.7 83.5h1.45v1.45h-1.45zM467.9 85.0h1.45v1.45h-1.45zM475.9 85.2h1.45v1.45h-1.45zM484.1 85.1h1.45v1.45h-1.45zM488.3 85.3h1.45v1.45h-1.45zM498.1 84.9h1.45v1.45h-1.45zM505.2 85.0h1.45v1.45h-1.45zM457.0 86.7h1.45v1.45h-1.45zM464.7 87.2h1.45v1.45h-1.45zM484.9 86.8h1.45v1.45h-1.45zM491.7 87.1h1.45v1.45h-1.45zM466.0 88.6h1.45v1.45h-1.45zM468.4 88.3h1.45v1.45h-1.45zM478.2 88.2h1.45v1.45h-1.45zM482.6 88.6h1.45v1.45h-1.45zM489.0 88.4h1.45v1.45h-1.45zM493.4 88.4h1.45v1.45h-1.45zM495.3 88.7h1.45v1.45h-1.45zM502.3 88.7h1.45v1.45h-1.45zM468.0 89.9h1.45v1.45h-1.45zM474.5 90.2h1.45v1.45h-1.45zM478.5 89.8h1.45v1.45h-1.45zM493.6 90.3h1.45v1.45h-1.45zM500.4 90.1h1.45v1.45h-1.45zM506.0 89.9h1.45v1.45h-1.45zM461.4 92.0h1.45v1.45h-1.45zM467.0 91.4h1.45v1.45h-1.45zM476.6 91.8h1.45v1.45h-1.45zM487.8 91.8h1.45v1.45h-1.45zM496.4 91.7h1.45v1.45h-1.45zM499.7 91.9h1.45v1.45h-1.45zM502.6 91.4h1.45v1.45h-1.45zM506.6 91.8h1.45v1.45h-1.45zM510.4 91.8h1.45v1.45h-1.45zM461.4 93.3h1.45v1.45h-1.45zM464.0 93.1h1.45v1.45h-1.45zM472.2 93.0h1.45v1.45h-1.45zM481.9 93.1h1.45v1.45h-1.45zM486.0 92.9h1.45v1.45h-1.45zM489.8 93.5h1.45v1.45h-1.45zM493.1 93.2h1.45v1.45h-1.45zM495.3 93.4h1.45v1.45h-1.45zM510.5 93.0h1.45v1.45h-1.45zM457.4 94.8h1.45v1.45h-1.45zM471.0 95.2h1.45v1.45h-1.45zM473.9 95.2h1.45v1.45h-1.45zM477.1 95.0h1.45v1.45h-1.45zM501.0 94.8h1.45v1.45h-1.45zM470.3 96.2h1.45v1.45h-1.45zM479.9 96.5h1.45v1.45h-1.45zM482.9 96.5h1.45v1.45h-1.45zM493.3 96.7h1.45v1.45h-1.45zM509.4 96.2h1.45v1.45h-1.45zM459.3 98.1h1.45v1.45h-1.45zM467.8 98.0h1.45v1.45h-1.45zM483.0 98.2h1.45v1.45h-1.45zM489.9 98.3h1.45v1.45h-1.45zM495.3 98.3h1.45v1.45h-1.45zM499.5 98.3h1.45v1.45h-1.45zM506.5 98.4h1.45v1.45h-1.45zM459.0 99.4h1.45v1.45h-1.45zM470.7 99.5h1.45v1.45h-1.45zM478.9 99.7h1.45v1.45h-1.45zM484.7 99.9h1.45v1.45h-1.45zM492.9 99.8h1.45v1.45h-1.45zM497.0 99.4h1.45v1.45h-1.45zM502.2 99.7h1.45v1.45h-1.45zM458.6 101.0h1.45v1.45h-1.45zM468.2 101.0h1.45v1.45h-1.45zM476.1 101.2h1.45v1.45h-1.45zM484.8 101.2h1.45v1.45h-1.45zM490.8 101.2h1.45v1.45h-1.45zM503.4 101.2h1.45v1.45h-1.45zM459.3 102.8h1.45v1.45h-1.45zM462.8 102.9h1.45v1.45h-1.45zM468.7 102.5h1.45v1.45h-1.45zM484.4 102.7h1.45v1.45h-1.45zM498.4 103.2h1.45v1.45h-1.45zM504.8 102.6h1.45v1.45h-1.45zM487.0 104.7h1.45v1.45h-1.45zM472.9 106.1h1.45v1.45h-1.45zM487.2 106.0h1.45v1.45h-1.45zM477.4 107.5h1.45v1.45h-1.45zM486.6 107.9h1.45v1.45h-1.45zM493.2 107.6h1.45v1.45h-1.45zM479.6 109.0h1.45v1.45h-1.45zM485.5 109.1h1.45v1.45h-1.45zM492.4 109.3h1.45v1.45h-1.45zM485.5 110.9h1.45v1.45h-1.45zM487.9 110.7h1.45v1.45h-1.45zM483.8 116.1h1.45v1.45h-1.45zM483.5 120.7h1.45v1.45h-1.45zM483.5 125.6h1.45v1.45h-1.45zM483.0 131.7h1.45v1.45h-1.45zM53.0 229.6h1.45v1.45h-1.45zM51.6 233.2h1.45v1.45h-1.45zM57.8 233.2h1.45v1.45h-1.45zM58.5 234.8h1.45v1.45h-1.45zM55.3 236.2h1.45v1.45h-1.45zM51.0 239.6h1.45v1.45h-1.45zM54.0 239.6h1.45v1.45h-1.45zM50.4 242.7h1.45v1.45h-1.45zM56.7 243.0h1.45v1.45h-1.45zM55.2 244.4h1.45v1.45h-1.45zM53.1 245.6h1.45v1.45h-1.45zM56.8 246.1h1.45v1.45h-1.45zM56.5 247.5h1.45v1.45h-1.45zM49.4 250.8h1.45v1.45h-1.45zM53.4 250.8h1.45v1.45h-1.45zM58.4 252.3h1.45v1.45h-1.45zM56.9 254.1h1.45v1.45h-1.45zM61.4 255.5h1.45v1.45h-1.45zM53.4 257.2h1.45v1.45h-1.45zM56.4 258.9h1.45v1.45h-1.45zM45.7 260.0h1.45v1.45h-1.45zM49.1 260.0h1.45v1.45h-1.45zM57.2 260.0h1.45v1.45h-1.45zM45.1 261.7h1.45v1.45h-1.45zM54.1 261.7h1.45v1.45h-1.45zM49.6 263.2h1.45v1.45h-1.45zM55.5 263.7h1.45v1.45h-1.45zM65.2 263.3h1.45v1.45h-1.45zM49.2 264.8h1.45v1.45h-1.45zM53.6 266.5h1.45v1.45h-1.45zM60.8 268.4h1.45v1.45h-1.45zM59.5 269.5h1.45v1.45h-1.45zM47.7 271.2h1.45v1.45h-1.45zM51.9 271.3h1.45v1.45h-1.45zM47.2 272.9h1.45v1.45h-1.45zM53.5 273.3h1.45v1.45h-1.45zM59.9 272.9h1.45v1.45h-1.45zM64.0 272.8h1.45v1.45h-1.45zM43.0 274.6h1.45v1.45h-1.45zM47.7 274.6h1.45v1.45h-1.45zM57.0 274.7h1.45v1.45h-1.45zM67.1 274.9h1.45v1.45h-1.45zM46.8 276.2h1.45v1.45h-1.45zM53.5 276.2h1.45v1.45h-1.45zM56.2 276.2h1.45v1.45h-1.45zM60.0 276.6h1.45v1.45h-1.45zM44.4 277.7h1.45v1.45h-1.45zM47.9 277.8h1.45v1.45h-1.45zM55.4 278.1h1.45v1.45h-1.45zM62.1 278.2h1.45v1.45h-1.45zM43.8 279.6h1.45v1.45h-1.45zM49.7 279.4h1.45v1.45h-1.45zM56.2 279.1h1.45v1.45h-1.45zM60.5 279.7h1.45v1.45h-1.45zM54.4 281.2h1.45v1.45h-1.45zM59.1 281.1h1.45v1.45h-1.45zM51.8 282.8h1.45v1.45h-1.45zM56.3 285.9h1.45v1.45h-1.45zM55.9 287.3h1.45v1.45h-1.45zM54.3 312.3h1.45v1.45h-1.45zM122.2 230.3h1.45v1.45h-1.45zM125.2 230.8h1.45v1.45h-1.45zM120.1 231.9h1.45v1.45h-1.45zM116.8 236.9h1.45v1.45h-1.45zM125.4 236.9h1.45v1.45h-1.45zM130.3 236.6h1.45v1.45h-1.45zM114.7 238.6h1.45v1.45h-1.45zM121.8 241.6h1.45v1.45h-1.45zM126.3 241.9h1.45v1.45h-1.45zM120.7 243.2h1.45v1.45h-1.45zM132.0 243.1h1.45v1.45h-1.45zM116.8 244.9h1.45v1.45h-1.45zM127.9 245.2h1.45v1.45h-1.45zM116.5 248.4h1.45v1.45h-1.45zM125.9 247.9h1.45v1.45h-1.45zM131.7 248.2h1.45v1.45h-1.45zM120.2 249.6h1.45v1.45h-1.45zM123.3 253.2h1.45v1.45h-1.45zM127.8 252.7h1.45v1.45h-1.45zM115.0 254.9h1.45v1.45h-1.45zM132.9 254.6h1.45v1.45h-1.45zM128.2 256.4h1.45v1.45h-1.45zM133.4 256.0h1.45v1.45h-1.45zM113.9 257.5h1.45v1.45h-1.45zM119.6 257.7h1.45v1.45h-1.45zM124.0 257.8h1.45v1.45h-1.45zM112.1 261.1h1.45v1.45h-1.45zM118.1 261.0h1.45v1.45h-1.45zM121.4 261.3h1.45v1.45h-1.45zM129.1 260.9h1.45v1.45h-1.45zM112.7 262.3h1.45v1.45h-1.45zM124.6 262.6h1.45v1.45h-1.45zM112.8 264.0h1.45v1.45h-1.45zM136.9 263.9h1.45v1.45h-1.45zM118.6 265.6h1.45v1.45h-1.45zM138.4 265.5h1.45v1.45h-1.45zM113.1 267.1h1.45v1.45h-1.45zM117.2 267.5h1.45v1.45h-1.45zM130.6 267.3h1.45v1.45h-1.45zM130.2 268.7h1.45v1.45h-1.45zM139.2 270.7h1.45v1.45h-1.45zM106.8 272.4h1.45v1.45h-1.45zM117.1 271.9h1.45v1.45h-1.45zM126.4 272.2h1.45v1.45h-1.45zM138.5 272.2h1.45v1.45h-1.45zM107.9 273.7h1.45v1.45h-1.45zM113.2 273.5h1.45v1.45h-1.45zM129.3 273.5h1.45v1.45h-1.45zM119.1 275.3h1.45v1.45h-1.45zM127.7 275.1h1.45v1.45h-1.45zM132.7 275.6h1.45v1.45h-1.45zM108.6 277.3h1.45v1.45h-1.45zM127.5 276.8h1.45v1.45h-1.45zM131.8 276.9h1.45v1.45h-1.45zM116.8 278.4h1.45v1.45h-1.45zM127.5 278.3h1.45v1.45h-1.45zM112.6 280.3h1.45v1.45h-1.45zM118.1 280.1h1.45v1.45h-1.45zM122.8 280.2h1.45v1.45h-1.45zM128.0 279.8h1.45v1.45h-1.45zM132.9 280.1h1.45v1.45h-1.45zM119.4 281.5h1.45v1.45h-1.45zM134.0 282.1h1.45v1.45h-1.45zM124.8 283.7h1.45v1.45h-1.45zM116.1 285.2h1.45v1.45h-1.45zM118.2 285.1h1.45v1.45h-1.45zM133.3 284.7h1.45v1.45h-1.45zM130.8 288.0h1.45v1.45h-1.45zM130.3 290.0h1.45v1.45h-1.45zM128.5 293.1h1.45v1.45h-1.45zM120.5 294.8h1.45v1.45h-1.45zM126.8 296.4h1.45v1.45h-1.45zM122.6 299.4h1.45v1.45h-1.45zM236.0 245.3h1.45v1.45h-1.45zM239.4 246.6h1.45v1.45h-1.45zM236.0 248.4h1.45v1.45h-1.45zM237.8 248.0h1.45v1.45h-1.45zM242.4 249.6h1.45v1.45h-1.45zM233.9 251.3h1.45v1.45h-1.45zM236.0 251.8h1.45v1.45h-1.45zM244.3 251.6h1.45v1.45h-1.45zM232.6 253.0h1.45v1.45h-1.45zM238.3 253.4h1.45v1.45h-1.45zM244.0 253.1h1.45v1.45h-1.45zM229.3 254.5h1.45v1.45h-1.45zM246.2 254.6h1.45v1.45h-1.45zM229.9 256.6h1.45v1.45h-1.45zM232.9 256.0h1.45v1.45h-1.45zM229.6 257.8h1.45v1.45h-1.45zM234.1 257.6h1.45v1.45h-1.45zM237.1 258.0h1.45v1.45h-1.45zM239.9 257.8h1.45v1.45h-1.45zM247.1 258.1h1.45v1.45h-1.45zM248.8 257.8h1.45v1.45h-1.45zM222.9 259.8h1.45v1.45h-1.45zM236.9 259.6h1.45v1.45h-1.45zM217.0 261.2h1.45v1.45h-1.45zM219.4 260.9h1.45v1.45h-1.45zM221.3 261.1h1.45v1.45h-1.45zM231.0 261.3h1.45v1.45h-1.45zM242.6 261.4h1.45v1.45h-1.45zM251.1 261.0h1.45v1.45h-1.45zM254.6 260.8h1.45v1.45h-1.45zM218.1 262.8h1.45v1.45h-1.45zM222.1 262.9h1.45v1.45h-1.45zM244.2 262.6h1.45v1.45h-1.45zM259.8 262.8h1.45v1.45h-1.45zM211.9 264.6h1.45v1.45h-1.45zM217.0 264.5h1.45v1.45h-1.45zM228.0 264.0h1.45v1.45h-1.45zM235.6 264.4h1.45v1.45h-1.45zM240.2 264.1h1.45v1.45h-1.45zM243.2 264.5h1.45v1.45h-1.45zM258.5 264.0h1.45v1.45h-1.45zM260.8 264.4h1.45v1.45h-1.45zM263.2 264.1h1.45v1.45h-1.45zM222.5 266.0h1.45v1.45h-1.45zM227.8 265.5h1.45v1.45h-1.45zM242.1 265.6h1.45v1.45h-1.45zM243.6 266.0h1.45v1.45h-1.45zM257.5 265.6h1.45v1.45h-1.45zM260.6 265.5h1.45v1.45h-1.45zM262.8 265.8h1.45v1.45h-1.45zM264.6 266.0h1.45v1.45h-1.45zM217.6 267.3h1.45v1.45h-1.45zM230.1 267.4h1.45v1.45h-1.45zM233.8 267.6h1.45v1.45h-1.45zM241.0 267.3h1.45v1.45h-1.45zM249.8 267.3h1.45v1.45h-1.45zM251.7 267.5h1.45v1.45h-1.45zM260.9 267.6h1.45v1.45h-1.45zM263.2 267.2h1.45v1.45h-1.45zM212.8 269.2h1.45v1.45h-1.45zM220.4 269.4h1.45v1.45h-1.45zM224.8 269.0h1.45v1.45h-1.45zM228.9 269.3h1.45v1.45h-1.45zM230.7 268.8h1.45v1.45h-1.45zM242.0 269.1h1.45v1.45h-1.45zM251.7 268.7h1.45v1.45h-1.45zM258.3 269.4h1.45v1.45h-1.45zM230.8 270.6h1.45v1.45h-1.45zM233.2 270.9h1.45v1.45h-1.45zM239.2 270.7h1.45v1.45h-1.45zM246.2 270.4h1.45v1.45h-1.45zM244.1 272.0h1.45v1.45h-1.45zM235.5 273.6h1.45v1.45h-1.45zM236.2 275.6h1.45v1.45h-1.45zM236.3 277.2h1.45v1.45h-1.45zM308.0 238.4h1.45v1.45h-1.45zM307.3 241.8h1.45v1.45h-1.45zM306.8 245.2h1.45v1.45h-1.45zM305.8 248.4h1.45v1.45h-1.45zM306.1 249.9h1.45v1.45h-1.45zM308.5 249.8h1.45v1.45h-1.45zM307.6 253.0h1.45v1.45h-1.45zM304.7 254.3h1.45v1.45h-1.45zM310.3 254.2h1.45v1.45h-1.45zM313.7 254.6h1.45v1.45h-1.45zM310.1 257.8h1.45v1.45h-1.45zM307.8 258.9h1.45v1.45h-1.45zM312.2 258.9h1.45v1.45h-1.45zM315.9 259.5h1.45v1.45h-1.45zM299.3 260.6h1.45v1.45h-1.45zM303.2 260.7h1.45v1.45h-1.45zM312.7 260.6h1.45v1.45h-1.45zM292.3 262.2h1.45v1.45h-1.45zM298.1 262.2h1.45v1.45h-1.45zM300.8 262.8h1.45v1.45h-1.45zM304.1 262.1h1.45v1.45h-1.45zM310.0 262.5h1.45v1.45h-1.45zM318.9 262.8h1.45v1.45h-1.45zM285.1 264.3h1.45v1.45h-1.45zM292.6 264.2h1.45v1.45h-1.45zM294.9 263.9h1.45v1.45h-1.45zM297.7 264.0h1.45v1.45h-1.45zM299.9 264.0h1.45v1.45h-1.45zM309.2 264.4h1.45v1.45h-1.45zM313.4 264.0h1.45v1.45h-1.45zM315.6 263.9h1.45v1.45h-1.45zM321.4 264.3h1.45v1.45h-1.45zM324.9 264.4h1.45v1.45h-1.45zM327.6 264.1h1.45v1.45h-1.45zM328.9 264.3h1.45v1.45h-1.45zM332.0 264.2h1.45v1.45h-1.45zM334.7 264.1h1.45v1.45h-1.45zM283.0 265.4h1.45v1.45h-1.45zM289.9 266.0h1.45v1.45h-1.45zM299.7 265.5h1.45v1.45h-1.45zM313.4 265.5h1.45v1.45h-1.45zM315.6 265.8h1.45v1.45h-1.45zM324.6 265.8h1.45v1.45h-1.45zM331.5 265.3h1.45v1.45h-1.45zM281.4 267.3h1.45v1.45h-1.45zM289.4 267.0h1.45v1.45h-1.45zM298.4 267.0h1.45v1.45h-1.45zM309.2 267.5h1.45v1.45h-1.45zM312.9 267.1h1.45v1.45h-1.45zM317.2 267.0h1.45v1.45h-1.45zM319.4 267.3h1.45v1.45h-1.45zM322.0 267.1h1.45v1.45h-1.45zM327.9 267.2h1.45v1.45h-1.45zM331.8 267.0h1.45v1.45h-1.45zM284.5 269.0h1.45v1.45h-1.45zM286.7 269.1h1.45v1.45h-1.45zM297.6 268.8h1.45v1.45h-1.45zM301.1 268.7h1.45v1.45h-1.45zM305.7 268.8h1.45v1.45h-1.45zM314.1 269.1h1.45v1.45h-1.45zM321.7 269.0h1.45v1.45h-1.45zM334.7 268.9h1.45v1.45h-1.45zM284.0 270.3h1.45v1.45h-1.45zM293.3 270.2h1.45v1.45h-1.45zM302.5 270.3h1.45v1.45h-1.45zM309.0 270.2h1.45v1.45h-1.45zM320.0 270.5h1.45v1.45h-1.45zM324.7 270.5h1.45v1.45h-1.45zM330.1 270.5h1.45v1.45h-1.45zM307.7 272.1h1.45v1.45h-1.45zM321.8 272.3h1.45v1.45h-1.45zM304.9 275.6h1.45v1.45h-1.45zM310.9 275.6h1.45v1.45h-1.45zM311.5 276.7h1.45v1.45h-1.45zM307.2 278.4h1.45v1.45h-1.45zM309.0 278.8h1.45v1.45h-1.45zM308.2 224.1h1.45v1.45h-1.45zM308.2 230.4h1.45v1.45h-1.45zM413.1 91.8h1.45v1.45h-1.45zM420.5 92.0h1.45v1.45h-1.45zM424.3 92.0h1.45v1.45h-1.45zM428.5 92.3h1.45v1.45h-1.45zM437.7 92.0h1.45v1.45h-1.45zM459.0 94.9h1.45v1.45h-1.45zM464.3 95.1h1.45v1.45h-1.45zM469.8 95.1h1.45v1.45h-1.45zM472.1 95.2h1.45v1.45h-1.45zM488.8 95.1h1.45v1.45h-1.45zM492.8 95.2h1.45v1.45h-1.45zM494.6 95.1h1.45v1.45h-1.45zM496.8 94.9h1.45v1.45h-1.45zM498.9 95.2h1.45v1.45h-1.45zM502.7 94.9h1.45v1.45h-1.45zM52.9 76.6h1.45v1.45h-1.45zM60.6 76.5h1.45v1.45h-1.45zM68.1 76.7h1.45v1.45h-1.45zM70.1 76.5h1.45v1.45h-1.45zM78.0 76.2h1.45v1.45h-1.45zM79.5 76.6h1.45v1.45h-1.45z" fill="#262626"/>
<path d="M53.4 48.6h1.45v1.45h-1.45zM50.7 50.4h1.45v1.45h-1.45zM53.0 53.7h1.45v1.45h-1.45zM49.9 55.5h1.45v1.45h-1.45zM57.6 56.7h1.45v1.45h-1.45zM50.4 58.6h1.45v1.45h-1.45zM53.6 58.5h1.45v1.45h-1.45zM49.8 60.2h1.45v1.45h-1.45zM53.5 61.9h1.45v1.45h-1.45zM59.0 61.5h1.45v1.45h-1.45zM48.8 63.3h1.45v1.45h-1.45zM49.8 64.6h1.45v1.45h-1.45zM58.3 66.7h1.45v1.45h-1.45zM61.9 68.0h1.45v1.45h-1.45zM50.1 69.4h1.45v1.45h-1.45zM62.6 69.6h1.45v1.45h-1.45zM60.2 71.1h1.45v1.45h-1.45zM47.4 72.7h1.45v1.45h-1.45zM51.6 72.7h1.45v1.45h-1.45zM59.6 72.5h1.45v1.45h-1.45zM64.0 72.8h1.45v1.45h-1.45zM45.4 74.7h1.45v1.45h-1.45zM52.1 74.2h1.45v1.45h-1.45zM63.0 74.4h1.45v1.45h-1.45zM66.6 74.1h1.45v1.45h-1.45zM80.4 74.6h1.45v1.45h-1.45zM35.4 76.3h1.45v1.45h-1.45zM43.5 75.8h1.45v1.45h-1.45zM46.1 76.0h1.45v1.45h-1.45zM69.6 76.3h1.45v1.45h-1.45zM72.4 75.9h1.45v1.45h-1.45zM37.7 77.9h1.45v1.45h-1.45zM79.7 77.9h1.45v1.45h-1.45zM42.5 79.1h1.45v1.45h-1.45zM66.1 79.0h1.45v1.45h-1.45zM75.2 79.0h1.45v1.45h-1.45zM30.1 80.9h1.45v1.45h-1.45zM37.0 81.1h1.45v1.45h-1.45zM38.7 80.7h1.45v1.45h-1.45zM42.1 80.7h1.45v1.45h-1.45zM70.8 80.5h1.45v1.45h-1.45zM40.1 82.3h1.45v1.45h-1.45zM49.7 82.8h1.45v1.45h-1.45zM58.8 82.4h1.45v1.45h-1.45zM68.4 82.8h1.45v1.45h-1.45zM64.5 84.1h1.45v1.45h-1.45zM67.4 83.9h1.45v1.45h-1.45zM51.7 85.4h1.45v1.45h-1.45zM65.5 85.9h1.45v1.45h-1.45zM41.3 87.4h1.45v1.45h-1.45zM40.6 88.6h1.45v1.45h-1.45zM44.5 88.6h1.45v1.45h-1.45zM48.7 88.7h1.45v1.45h-1.45zM61.0 88.8h1.45v1.45h-1.45zM64.7 88.7h1.45v1.45h-1.45zM54.9 111.6h1.45v1.45h-1.45zM54.2 122.3h1.45v1.45h-1.45zM123.1 38.5h1.45v1.45h-1.45zM123.0 48.1h1.45v1.45h-1.45zM123.6 51.4h1.45v1.45h-1.45zM120.5 54.4h1.45v1.45h-1.45zM125.3 56.0h1.45v1.45h-1.45zM127.2 57.9h1.45v1.45h-1.45zM123.1 59.3h1.45v1.45h-1.45zM129.0 59.1h1.45v1.45h-1.45zM119.2 61.1h1.45v1.45h-1.45zM129.4 61.1h1.45v1.45h-1.45zM115.2 64.5h1.45v1.45h-1.45zM130.0 64.4h1.45v1.45h-1.45zM113.8 65.9h1.45v1.45h-1.45zM118.7 65.9h1.45v1.45h-1.45zM122.9 65.4h1.45v1.45h-1.45zM132.2 65.8h1.45v1.45h-1.45zM130.1 67.7h1.45v1.45h-1.45zM122.1 68.8h1.45v1.45h-1.45zM132.1 68.6h1.45v1.45h-1.45zM121.4 70.3h1.45v1.45h-1.45zM131.8 70.9h1.45v1.45h-1.45zM133.2 70.6h1.45v1.45h-1.45zM140.1 70.9h1.45v1.45h-1.45zM118.7 72.2h1.45v1.45h-1.45zM136.7 72.5h1.45v1.45h-1.45zM125.7 73.5h1.45v1.45h-1.45zM142.4 73.8h1.45v1.45h-1.45zM100.8 75.1h1.45v1.45h-1.45zM107.9 75.7h1.45v1.45h-1.45zM115.6 75.2h1.45v1.45h-1.45zM118.8 75.7h1.45v1.45h-1.45zM130.8 75.4h1.45v1.45h-1.45zM133.8 75.1h1.45v1.45h-1.45zM137.4 75.3h1.45v1.45h-1.45zM98.3 76.9h1.45v1.45h-1.45zM101.1 77.1h1.45v1.45h-1.45zM111.3 76.9h1.45v1.45h-1.45zM117.0 77.3h1.45v1.45h-1.45zM127.1 76.7h1.45v1.45h-1.45zM129.8 76.7h1.45v1.45h-1.45zM133.3 76.7h1.45v1.45h-1.45zM136.3 76.8h1.45v1.45h-1.45zM140.2 77.3h1.45v1.45h-1.45zM105.3 78.7h1.45v1.45h-1.45zM120.0 78.8h1.45v1.45h-1.45zM124.6 78.7h1.45v1.45h-1.45zM130.1 78.6h1.45v1.45h-1.45zM99.4 80.3h1.45v1.45h-1.45zM101.9 80.4h1.45v1.45h-1.45zM123.2 79.9h1.45v1.45h-1.45zM130.2 80.0h1.45v1.45h-1.45zM133.9 79.8h1.45v1.45h-1.45zM141.1 80.3h1.45v1.45h-1.45zM145.9 80.0h1.45v1.45h-1.45zM98.0 81.4h1.45v1.45h-1.45zM110.6 81.5h1.45v1.45h-1.45zM118.0 81.6h1.45v1.45h-1.45zM124.0 81.6h1.45v1.45h-1.45zM131.2 81.6h1.45v1.45h-1.45zM142.6 81.7h1.45v1.45h-1.45zM97.7 83.7h1.45v1.45h-1.45zM103.8 83.3h1.45v1.45h-1.45zM111.7 83.7h1.45v1.45h-1.45zM115.4 83.3h1.45v1.45h-1.45zM121.4 83.1h1.45v1.45h-1.45zM124.4 83.3h1.45v1.45h-1.45zM127.0 83.3h1.45v1.45h-1.45zM147.2 83.3h1.45v1.45h-1.45zM148.7 83.4h1.45v1.45h-1.45zM105.7 84.7h1.45v1.45h-1.45zM107.8 85.2h1.45v1.45h-1.45zM129.9 85.1h1.45v1.45h-1.45zM133.2 84.8h1.45v1.45h-1.45zM145.9 85.0h1.45v1.45h-1.45zM102.6 86.4h1.45v1.45h-1.45zM106.6 86.6h1.45v1.45h-1.45zM119.3 86.8h1.45v1.45h-1.45zM145.0 86.9h1.45v1.45h-1.45zM123.5 88.1h1.45v1.45h-1.45zM129.5 89.7h1.45v1.45h-1.45zM133.8 90.1h1.45v1.45h-1.45zM117.2 91.1h1.45v1.45h-1.45zM131.6 91.2h1.45v1.45h-1.45zM115.5 92.9h1.45v1.45h-1.45zM118.6 94.4h1.45v1.45h-1.45zM130.7 96.2h1.45v1.45h-1.45zM117.7 97.5h1.45v1.45h-1.45zM126.1 99.2h1.45v1.45h-1.45zM123.3 101.3h1.45v1.45h-1.45zM123.4 124.7h1.45v1.45h-1.45zM241.0 44.2h1.45v1.45h-1.45zM232.6 47.0h1.45v1.45h-1.45zM244.1 47.1h1.45v1.45h-1.45zM246.4 47.6h1.45v1.45h-1.45zM221.4 49.2h1.45v1.45h-1.45zM234.5 49.1h1.45v1.45h-1.45zM238.2 49.1h1.45v1.45h-1.45zM251.7 49.1h1.45v1.45h-1.45zM249.2 50.7h1.45v1.45h-1.45zM233.2 52.0h1.45v1.45h-1.45zM255.9 52.1h1.45v1.45h-1.45zM234.8 53.7h1.45v1.45h-1.45zM240.7 53.4h1.45v1.45h-1.45zM248.3 53.4h1.45v1.45h-1.45zM254.5 53.7h1.45v1.45h-1.45zM221.7 55.4h1.45v1.45h-1.45zM244.0 55.6h1.45v1.45h-1.45zM222.5 58.8h1.45v1.45h-1.45zM247.1 58.5h1.45v1.45h-1.45zM230.3 60.2h1.45v1.45h-1.45zM235.5 61.9h1.45v1.45h-1.45zM248.1 61.6h1.45v1.45h-1.45zM254.8 61.6h1.45v1.45h-1.45zM229.8 64.9h1.45v1.45h-1.45zM237.5 64.6h1.45v1.45h-1.45zM245.5 64.5h1.45v1.45h-1.45zM252.7 64.6h1.45v1.45h-1.45zM229.4 66.5h1.45v1.45h-1.45zM233.0 66.6h1.45v1.45h-1.45zM245.2 66.3h1.45v1.45h-1.45zM241.0 68.2h1.45v1.45h-1.45zM246.9 68.4h1.45v1.45h-1.45zM230.9 69.6h1.45v1.45h-1.45zM242.6 69.3h1.45v1.45h-1.45zM251.0 69.5h1.45v1.45h-1.45zM233.3 71.5h1.45v1.45h-1.45zM244.4 71.0h1.45v1.45h-1.45zM232.5 73.1h1.45v1.45h-1.45zM236.3 73.0h1.45v1.45h-1.45zM245.2 72.7h1.45v1.45h-1.45zM241.3 74.7h1.45v1.45h-1.45zM237.9 76.3h1.45v1.45h-1.45zM246.6 76.3h1.45v1.45h-1.45zM249.9 76.3h1.45v1.45h-1.45zM227.2 77.5h1.45v1.45h-1.45zM241.5 79.0h1.45v1.45h-1.45zM232.5 80.6h1.45v1.45h-1.45zM243.5 82.2h1.45v1.45h-1.45zM233.2 83.8h1.45v1.45h-1.45zM237.3 84.3h1.45v1.45h-1.45zM249.1 84.2h1.45v1.45h-1.45zM246.8 85.3h1.45v1.45h-1.45zM229.9 87.1h1.45v1.45h-1.45zM238.5 87.6h1.45v1.45h-1.45zM242.3 88.9h1.45v1.45h-1.45zM245.5 89.1h1.45v1.45h-1.45zM231.3 90.7h1.45v1.45h-1.45zM234.3 91.7h1.45v1.45h-1.45zM237.1 92.1h1.45v1.45h-1.45zM235.4 93.5h1.45v1.45h-1.45zM243.3 93.8h1.45v1.45h-1.45zM240.8 98.8h1.45v1.45h-1.45zM242.0 101.6h1.45v1.45h-1.45zM238.3 115.3h1.45v1.45h-1.45zM307.5 38.5h1.45v1.45h-1.45zM310.0 40.2h1.45v1.45h-1.45zM308.2 43.4h1.45v1.45h-1.45zM310.0 43.2h1.45v1.45h-1.45zM309.0 44.9h1.45v1.45h-1.45zM302.8 46.3h1.45v1.45h-1.45zM287.5 48.4h1.45v1.45h-1.45zM294.6 48.3h1.45v1.45h-1.45zM301.1 47.9h1.45v1.45h-1.45zM304.3 47.8h1.45v1.45h-1.45zM313.0 48.1h1.45v1.45h-1.45zM314.8 48.2h1.45v1.45h-1.45zM323.8 48.3h1.45v1.45h-1.45zM332.3 48.2h1.45v1.45h-1.45zM285.2 49.6h1.45v1.45h-1.45zM292.3 49.6h1.45v1.45h-1.45zM284.4 51.5h1.45v1.45h-1.45zM299.6 51.4h1.45v1.45h-1.45zM304.2 51.4h1.45v1.45h-1.45zM326.2 51.6h1.45v1.45h-1.45zM294.9 53.0h1.45v1.45h-1.45zM312.4 53.1h1.45v1.45h-1.45zM317.5 52.7h1.45v1.45h-1.45zM328.0 53.0h1.45v1.45h-1.45zM331.4 52.9h1.45v1.45h-1.45zM314.3 54.3h1.45v1.45h-1.45zM325.0 54.6h1.45v1.45h-1.45zM330.3 54.3h1.45v1.45h-1.45zM286.8 56.1h1.45v1.45h-1.45zM291.9 56.2h1.45v1.45h-1.45zM297.4 56.0h1.45v1.45h-1.45zM312.4 56.3h1.45v1.45h-1.45zM297.9 57.4h1.45v1.45h-1.45zM324.8 57.9h1.45v1.45h-1.45zM288.7 59.4h1.45v1.45h-1.45zM292.8 59.5h1.45v1.45h-1.45zM301.0 59.0h1.45v1.45h-1.45zM328.1 59.3h1.45v1.45h-1.45zM290.0 61.1h1.45v1.45h-1.45zM300.4 60.6h1.45v1.45h-1.45zM290.7 62.6h1.45v1.45h-1.45zM294.1 62.7h1.45v1.45h-1.45zM318.5 62.3h1.45v1.45h-1.45zM326.6 62.3h1.45v1.45h-1.45zM296.4 64.3h1.45v1.45h-1.45zM311.2 64.3h1.45v1.45h-1.45zM314.2 64.2h1.45v1.45h-1.45zM322.1 64.1h1.45v1.45h-1.45zM289.6 65.5h1.45v1.45h-1.45zM296.6 65.8h1.45v1.45h-1.45zM300.2 65.9h1.45v1.45h-1.45zM297.5 67.6h1.45v1.45h-1.45zM314.7 67.2h1.45v1.45h-1.45zM325.2 67.6h1.45v1.45h-1.45zM291.0 68.9h1.45v1.45h-1.45zM295.5 68.6h1.45v1.45h-1.45zM309.0 68.8h1.45v1.45h-1.45zM293.7 70.3h1.45v1.45h-1.45zM297.0 70.1h1.45v1.45h-1.45zM307.0 70.8h1.45v1.45h-1.45zM311.9 70.7h1.45v1.45h-1.45zM304.2 72.3h1.45v1.45h-1.45zM313.7 72.2h1.45v1.45h-1.45zM322.2 72.4h1.45v1.45h-1.45zM294.5 73.3h1.45v1.45h-1.45zM296.6 73.8h1.45v1.45h-1.45zM309.5 73.9h1.45v1.45h-1.45zM298.8 75.4h1.45v1.45h-1.45zM304.3 75.2h1.45v1.45h-1.45zM314.6 75.5h1.45v1.45h-1.45zM320.9 75.6h1.45v1.45h-1.45zM307.7 77.1h1.45v1.45h-1.45zM321.2 77.0h1.45v1.45h-1.45zM300.8 78.3h1.45v1.45h-1.45zM313.9 78.8h1.45v1.45h-1.45zM296.6 79.9h1.45v1.45h-1.45zM316.8 81.7h1.45v1.45h-1.45zM298.1 83.1h1.45v1.45h-1.45zM307.7 83.3h1.45v1.45h-1.45zM314.6 83.1h1.45v1.45h-1.45zM319.2 83.4h1.45v1.45h-1.45zM305.6 84.6h1.45v1.45h-1.45zM312.6 84.8h1.45v1.45h-1.45zM299.1 86.4h1.45v1.45h-1.45zM304.0 86.1h1.45v1.45h-1.45zM307.4 86.8h1.45v1.45h-1.45zM315.6 86.5h1.45v1.45h-1.45zM299.8 88.0h1.45v1.45h-1.45zM310.7 87.8h1.45v1.45h-1.45zM318.5 87.8h1.45v1.45h-1.45zM314.3 89.4h1.45v1.45h-1.45zM304.4 91.3h1.45v1.45h-1.45zM310.2 91.6h1.45v1.45h-1.45zM318.8 91.0h1.45v1.45h-1.45zM304.1 93.2h1.45v1.45h-1.45zM311.2 92.8h1.45v1.45h-1.45zM310.3 95.8h1.45v1.45h-1.45zM413.5 54.6h1.45v1.45h-1.45zM414.1 59.0h1.45v1.45h-1.45zM413.4 63.9h1.45v1.45h-1.45zM412.8 65.7h1.45v1.45h-1.45zM412.3 73.9h1.45v1.45h-1.45zM417.1 73.4h1.45v1.45h-1.45zM400.6 78.6h1.45v1.45h-1.45zM407.0 78.2h1.45v1.45h-1.45zM420.3 78.7h1.45v1.45h-1.45zM425.3 78.2h1.45v1.45h-1.45zM415.3 80.2h1.45v1.45h-1.45zM417.6 80.1h1.45v1.45h-1.45zM428.9 81.5h1.45v1.45h-1.45zM402.0 83.4h1.45v1.45h-1.45zM409.8 83.4h1.45v1.45h-1.45zM388.0 85.1h1.45v1.45h-1.45zM391.0 84.7h1.45v1.45h-1.45zM402.3 84.5h1.45v1.45h-1.45zM405.6 84.8h1.45v1.45h-1.45zM427.4 85.2h1.45v1.45h-1.45zM430.0 84.9h1.45v1.45h-1.45zM387.1 86.3h1.45v1.45h-1.45zM392.3 86.2h1.45v1.45h-1.45zM394.0 86.6h1.45v1.45h-1.45zM408.1 86.7h1.45v1.45h-1.45zM436.2 86.7h1.45v1.45h-1.45zM405.5 88.3h1.45v1.45h-1.45zM420.7 88.2h1.45v1.45h-1.45zM430.8 87.7h1.45v1.45h-1.45zM393.5 89.8h1.45v1.45h-1.45zM402.8 89.7h1.45v1.45h-1.45zM422.0 89.7h1.45v1.45h-1.45zM424.4 89.4h1.45v1.45h-1.45zM431.2 89.5h1.45v1.45h-1.45zM433.9 89.4h1.45v1.45h-1.45zM388.2 91.1h1.45v1.45h-1.45zM391.4 91.3h1.45v1.45h-1.45zM412.2 91.3h1.45v1.45h-1.45zM415.8 91.1h1.45v1.45h-1.45zM435.0 91.0h1.45v1.45h-1.45zM437.0 91.6h1.45v1.45h-1.45zM397.2 93.0h1.45v1.45h-1.45zM407.0 93.2h1.45v1.45h-1.45zM411.6 93.1h1.45v1.45h-1.45zM416.0 92.9h1.45v1.45h-1.45zM420.0 92.9h1.45v1.45h-1.45zM421.9 93.1h1.45v1.45h-1.45zM431.3 93.0h1.45v1.45h-1.45zM440.3 93.1h1.45v1.45h-1.45zM399.6 94.5h1.45v1.45h-1.45zM401.7 94.8h1.45v1.45h-1.45zM405.6 94.7h1.45v1.45h-1.45zM410.0 94.8h1.45v1.45h-1.45zM418.0 94.5h1.45v1.45h-1.45zM422.3 94.8h1.45v1.45h-1.45zM430.0 94.5h1.45v1.45h-1.45zM435.2 94.4h1.45v1.45h-1.45zM395.4 96.2h1.45v1.45h-1.45zM402.4 96.0h1.45v1.45h-1.45zM412.8 96.4h1.45v1.45h-1.45zM416.0 96.0h1.45v1.45h-1.45zM430.2 95.8h1.45v1.45h-1.45zM433.1 96.4h1.45v1.45h-1.45zM396.3 97.7h1.45v1.45h-1.45zM405.1 97.9h1.45v1.45h-1.45zM413.4 97.4h1.45v1.45h-1.45zM422.9 97.5h1.45v1.45h-1.45zM397.5 99.4h1.45v1.45h-1.45zM409.7 98.9h1.45v1.45h-1.45zM418.2 99.4h1.45v1.45h-1.45zM399.1 100.9h1.45v1.45h-1.45zM425.4 101.0h1.45v1.45h-1.45zM402.7 102.6h1.45v1.45h-1.45zM412.5 102.2h1.45v1.45h-1.45zM419.7 102.5h1.45v1.45h-1.45zM402.0 105.8h1.45v1.45h-1.45zM404.7 108.9h1.45v1.45h-1.45zM412.2 110.3h1.45v1.45h-1.45zM414.0 121.4h1.45v1.45h-1.45zM484.0 53.0h1.45v1.45h-1.45zM483.4 66.2h1.45v1.45h-1.45zM483.4 68.0h1.45v1.45h-1.45zM486.4 70.7h1.45v1.45h-1.45zM486.5 73.9h1.45v1.45h-1.45zM489.3 75.7h1.45v1.45h-1.45zM486.0 79.0h1.45v1.45h-1.45zM490.2 78.9h1.45v1.45h-1.45zM486.4 80.3h1.45v1.45h-1.45zM492.0 81.9h1.45v1.45h-1.45zM472.5 83.8h1.45v1.45h-1.45zM480.1 83.6h1.45v1.45h-1.45zM484.4 83.8h1.45v1.45h-1.45zM458.4 85.1h1.45v1.45h-1.45zM460.8 85.6h1.45v1.45h-1.45zM471.9 85.1h1.45v1.45h-1.45zM491.7 85.1h1.45v1.45h-1.45zM494.6 85.4h1.45v1.45h-1.45zM503.0 85.5h1.45v1.45h-1.45zM510.4 85.4h1.45v1.45h-1.45zM473.3 86.8h1.45v1.45h-1.45zM477.1 87.1h1.45v1.45h-1.45zM479.6 86.6h1.45v1.45h-1.45zM501.9 86.9h1.45v1.45h-1.45zM510.1 86.6h1.45v1.45h-1.45zM458.5 88.7h1.45v1.45h-1.45zM470.7 88.4h1.45v1.45h-1.45zM475.0 88.3h1.45v1.45h-1.45zM498.4 88.5h1.45v1.45h-1.45zM506.2 88.7h1.45v1.45h-1.45zM508.8 88.6h1.45v1.45h-1.45zM458.2 90.1h1.45v1.45h-1.45zM462.1 90.3h1.45v1.45h-1.45zM485.2 89.8h1.45v1.45h-1.45zM487.9 89.7h1.45v1.45h-1.45zM501.7 90.1h1.45v1.45h-1.45zM509.7 89.7h1.45v1.45h-1.45zM458.8 91.8h1.45v1.45h-1.45zM464.7 91.5h1.45v1.45h-1.45zM469.8 91.9h1.45v1.45h-1.45zM474.8 91.5h1.45v1.45h-1.45zM481.3 92.0h1.45v1.45h-1.45zM483.0 91.9h1.45v1.45h-1.45zM459.0 93.6h1.45v1.45h-1.45zM468.5 93.0h1.45v1.45h-1.45zM477.6 93.0h1.45v1.45h-1.45zM499.3 93.2h1.45v1.45h-1.45zM463.3 94.6h1.45v1.45h-1.45zM482.6 95.0h1.45v1.45h-1.45zM484.9 94.9h1.45v1.45h-1.45zM489.3 94.9h1.45v1.45h-1.45zM496.5 94.7h1.45v1.45h-1.45zM502.8 95.0h1.45v1.45h-1.45zM509.6 94.9h1.45v1.45h-1.45zM458.1 96.4h1.45v1.45h-1.45zM460.3 96.3h1.45v1.45h-1.45zM465.3 96.5h1.45v1.45h-1.45zM466.7 96.7h1.45v1.45h-1.45zM474.2 96.3h1.45v1.45h-1.45zM496.8 96.6h1.45v1.45h-1.45zM500.5 96.2h1.45v1.45h-1.45zM505.5 96.7h1.45v1.45h-1.45zM462.3 97.8h1.45v1.45h-1.45zM465.7 97.8h1.45v1.45h-1.45zM470.7 98.1h1.45v1.45h-1.45zM474.6 97.9h1.45v1.45h-1.45zM479.2 98.0h1.45v1.45h-1.45zM486.4 98.1h1.45v1.45h-1.45zM491.5 98.3h1.45v1.45h-1.45zM501.6 98.0h1.45v1.45h-1.45zM462.7 99.9h1.45v1.45h-1.45zM473.3 99.6h1.45v1.45h-1.45zM488.7 99.7h1.45v1.45h-1.45zM505.5 99.9h1.45v1.45h-1.45zM510.1 99.3h1.45v1.45h-1.45zM463.2 101.5h1.45v1.45h-1.45zM479.6 101.0h1.45v1.45h-1.45zM495.3 101.6h1.45v1.45h-1.45zM474.0 103.2h1.45v1.45h-1.45zM487.8 102.9h1.45v1.45h-1.45zM508.1 103.1h1.45v1.45h-1.45zM471.5 104.7h1.45v1.45h-1.45zM492.8 104.6h1.45v1.45h-1.45zM495.7 104.7h1.45v1.45h-1.45zM478.1 106.0h1.45v1.45h-1.45zM493.9 106.4h1.45v1.45h-1.45zM473.2 107.6h1.45v1.45h-1.45zM475.7 109.1h1.45v1.45h-1.45zM479.6 110.8h1.45v1.45h-1.45zM54.0 228.1h1.45v1.45h-1.45zM55.8 231.4h1.45v1.45h-1.45zM49.5 236.5h1.45v1.45h-1.45zM50.4 238.1h1.45v1.45h-1.45zM54.7 238.2h1.45v1.45h-1.45zM57.7 239.2h1.45v1.45h-1.45zM51.0 240.8h1.45v1.45h-1.45zM57.6 241.0h1.45v1.45h-1.45zM53.5 242.7h1.45v1.45h-1.45zM51.6 244.6h1.45v1.45h-1.45zM51.0 245.8h1.45v1.45h-1.45zM49.8 247.7h1.45v1.45h-1.45zM57.2 249.2h1.45v1.45h-1.45zM59.1 250.9h1.45v1.45h-1.45zM48.5 252.5h1.45v1.45h-1.45zM55.9 252.2h1.45v1.45h-1.45zM49.1 253.6h1.45v1.45h-1.45zM49.8 256.8h1.45v1.45h-1.45zM61.1 257.3h1.45v1.45h-1.45zM51.6 258.8h1.45v1.45h-1.45zM52.7 260.2h1.45v1.45h-1.45zM60.2 260.2h1.45v1.45h-1.45zM65.1 260.6h1.45v1.45h-1.45zM48.6 261.7h1.45v1.45h-1.45zM58.1 262.1h1.45v1.45h-1.45zM64.4 261.7h1.45v1.45h-1.45zM46.2 263.3h1.45v1.45h-1.45zM43.5 265.1h1.45v1.45h-1.45zM52.7 265.1h1.45v1.45h-1.45zM56.2 265.1h1.45v1.45h-1.45zM61.6 264.9h1.45v1.45h-1.45zM65.7 265.0h1.45v1.45h-1.45zM44.6 266.9h1.45v1.45h-1.45zM47.1 266.9h1.45v1.45h-1.45zM48.0 268.4h1.45v1.45h-1.45zM65.8 268.6h1.45v1.45h-1.45zM42.2 269.7h1.45v1.45h-1.45zM44.6 271.2h1.45v1.45h-1.45zM43.2 273.4h1.45v1.45h-1.45zM57.2 272.9h1.45v1.45h-1.45zM50.5 274.8h1.45v1.45h-1.45zM64.2 276.4h1.45v1.45h-1.45zM64.7 279.5h1.45v1.45h-1.45zM47.1 280.9h1.45v1.45h-1.45zM50.5 281.3h1.45v1.45h-1.45zM52.8 289.4h1.45v1.45h-1.45zM54.4 292.5h1.45v1.45h-1.45zM53.5 295.3h1.45v1.45h-1.45zM124.7 229.3h1.45v1.45h-1.45zM122.3 232.0h1.45v1.45h-1.45zM126.2 232.1h1.45v1.45h-1.45zM123.1 233.5h1.45v1.45h-1.45zM128.0 234.1h1.45v1.45h-1.45zM130.4 235.1h1.45v1.45h-1.45zM119.4 238.4h1.45v1.45h-1.45zM130.7 238.4h1.45v1.45h-1.45zM115.9 239.9h1.45v1.45h-1.45zM129.0 240.3h1.45v1.45h-1.45zM132.1 239.9h1.45v1.45h-1.45zM133.5 241.7h1.45v1.45h-1.45zM125.2 243.5h1.45v1.45h-1.45zM121.2 245.0h1.45v1.45h-1.45zM122.4 246.5h1.45v1.45h-1.45zM131.2 246.6h1.45v1.45h-1.45zM117.6 250.0h1.45v1.45h-1.45zM124.8 250.0h1.45v1.45h-1.45zM129.6 249.5h1.45v1.45h-1.45zM120.0 251.5h1.45v1.45h-1.45zM116.5 253.0h1.45v1.45h-1.45zM130.9 253.0h1.45v1.45h-1.45zM121.0 254.4h1.45v1.45h-1.45zM126.1 254.4h1.45v1.45h-1.45zM116.4 256.1h1.45v1.45h-1.45zM128.9 257.7h1.45v1.45h-1.45zM115.5 259.4h1.45v1.45h-1.45zM129.1 259.3h1.45v1.45h-1.45zM133.1 259.6h1.45v1.45h-1.45zM125.9 261.2h1.45v1.45h-1.45zM135.3 260.7h1.45v1.45h-1.45zM116.0 262.4h1.45v1.45h-1.45zM120.9 262.6h1.45v1.45h-1.45zM128.3 262.7h1.45v1.45h-1.45zM136.9 262.3h1.45v1.45h-1.45zM114.9 263.9h1.45v1.45h-1.45zM113.3 266.0h1.45v1.45h-1.45zM110.2 267.7h1.45v1.45h-1.45zM124.7 267.4h1.45v1.45h-1.45zM134.6 267.1h1.45v1.45h-1.45zM110.4 269.3h1.45v1.45h-1.45zM118.1 268.9h1.45v1.45h-1.45zM133.6 269.2h1.45v1.45h-1.45zM139.0 269.0h1.45v1.45h-1.45zM106.5 270.3h1.45v1.45h-1.45zM116.7 270.4h1.45v1.45h-1.45zM120.9 270.3h1.45v1.45h-1.45zM124.1 270.9h1.45v1.45h-1.45zM127.4 270.9h1.45v1.45h-1.45zM132.3 270.3h1.45v1.45h-1.45zM129.1 272.2h1.45v1.45h-1.45zM116.1 274.1h1.45v1.45h-1.45zM121.1 274.0h1.45v1.45h-1.45zM127.1 273.8h1.45v1.45h-1.45zM136.0 273.5h1.45v1.45h-1.45zM122.9 275.3h1.45v1.45h-1.45zM114.8 277.2h1.45v1.45h-1.45zM138.0 276.8h1.45v1.45h-1.45zM131.0 278.6h1.45v1.45h-1.45zM135.9 279.9h1.45v1.45h-1.45zM112.5 281.9h1.45v1.45h-1.45zM128.2 281.6h1.45v1.45h-1.45zM131.7 286.8h1.45v1.45h-1.45zM119.2 291.6h1.45v1.45h-1.45zM125.9 291.2h1.45v1.45h-1.45zM123.8 293.3h1.45v1.45h-1.45zM127.8 294.7h1.45v1.45h-1.45zM238.6 239.9h1.45v1.45h-1.45zM238.2 243.1h1.45v1.45h-1.45zM234.5 250.0h1.45v1.45h-1.45zM240.8 253.3h1.45v1.45h-1.45zM234.5 254.6h1.45v1.45h-1.45zM239.5 254.4h1.45v1.45h-1.45zM243.1 254.9h1.45v1.45h-1.45zM241.3 256.2h1.45v1.45h-1.45zM247.3 256.3h1.45v1.45h-1.45zM226.6 258.2h1.45v1.45h-1.45zM243.7 258.2h1.45v1.45h-1.45zM230.2 259.5h1.45v1.45h-1.45zM232.2 259.4h1.45v1.45h-1.45zM245.6 259.8h1.45v1.45h-1.45zM249.2 259.7h1.45v1.45h-1.45zM225.7 261.3h1.45v1.45h-1.45zM233.2 261.2h1.45v1.45h-1.45zM238.9 260.9h1.45v1.45h-1.45zM257.2 261.0h1.45v1.45h-1.45zM260.5 261.4h1.45v1.45h-1.45zM215.5 262.6h1.45v1.45h-1.45zM220.6 262.6h1.45v1.45h-1.45zM225.4 262.7h1.45v1.45h-1.45zM228.4 262.9h1.45v1.45h-1.45zM238.3 262.9h1.45v1.45h-1.45zM249.0 262.4h1.45v1.45h-1.45zM255.1 262.6h1.45v1.45h-1.45zM222.9 264.3h1.45v1.45h-1.45zM224.8 264.4h1.45v1.45h-1.45zM232.3 264.3h1.45v1.45h-1.45zM245.7 264.0h1.45v1.45h-1.45zM248.0 264.5h1.45v1.45h-1.45zM255.9 264.4h1.45v1.45h-1.45zM264.7 264.4h1.45v1.45h-1.45zM212.7 265.7h1.45v1.45h-1.45zM214.2 265.7h1.45v1.45h-1.45zM221.0 266.1h1.45v1.45h-1.45zM224.6 266.1h1.45v1.45h-1.45zM233.0 265.6h1.45v1.45h-1.45zM236.0 265.9h1.45v1.45h-1.45zM239.4 265.6h1.45v1.45h-1.45zM246.5 265.8h1.45v1.45h-1.45zM249.6 265.7h1.45v1.45h-1.45zM255.4 266.1h1.45v1.45h-1.45zM223.3 267.8h1.45v1.45h-1.45zM225.1 267.8h1.45v1.45h-1.45zM227.3 267.5h1.45v1.45h-1.45zM236.0 267.4h1.45v1.45h-1.45zM238.2 267.4h1.45v1.45h-1.45zM255.2 267.8h1.45v1.45h-1.45zM257.9 267.8h1.45v1.45h-1.45zM264.9 267.1h1.45v1.45h-1.45zM215.0 268.9h1.45v1.45h-1.45zM217.2 268.8h1.45v1.45h-1.45zM222.4 268.8h1.45v1.45h-1.45zM236.6 269.1h1.45v1.45h-1.45zM239.7 269.4h1.45v1.45h-1.45zM246.0 269.1h1.45v1.45h-1.45zM249.5 268.9h1.45v1.45h-1.45zM255.5 269.2h1.45v1.45h-1.45zM262.6 269.3h1.45v1.45h-1.45zM266.1 268.8h1.45v1.45h-1.45zM225.4 270.5h1.45v1.45h-1.45zM249.6 270.8h1.45v1.45h-1.45zM239.6 272.6h1.45v1.45h-1.45zM240.1 273.8h1.45v1.45h-1.45zM241.4 275.4h1.45v1.45h-1.45zM238.4 221.8h1.45v1.45h-1.45zM308.6 246.2h1.45v1.45h-1.45zM307.5 251.5h1.45v1.45h-1.45zM304.1 253.2h1.45v1.45h-1.45zM306.1 254.1h1.45v1.45h-1.45zM302.6 256.3h1.45v1.45h-1.45zM309.0 256.3h1.45v1.45h-1.45zM314.1 256.4h1.45v1.45h-1.45zM301.4 257.9h1.45v1.45h-1.45zM306.5 257.9h1.45v1.45h-1.45zM314.0 257.9h1.45v1.45h-1.45zM300.0 259.0h1.45v1.45h-1.45zM304.7 259.1h1.45v1.45h-1.45zM306.0 260.6h1.45v1.45h-1.45zM310.8 260.9h1.45v1.45h-1.45zM317.0 261.1h1.45v1.45h-1.45zM305.7 262.2h1.45v1.45h-1.45zM322.1 262.7h1.45v1.45h-1.45zM325.4 262.7h1.45v1.45h-1.45zM282.5 263.8h1.45v1.45h-1.45zM304.1 264.2h1.45v1.45h-1.45zM284.8 265.8h1.45v1.45h-1.45zM287.5 266.0h1.45v1.45h-1.45zM293.0 266.0h1.45v1.45h-1.45zM297.6 266.0h1.45v1.45h-1.45zM308.9 265.8h1.45v1.45h-1.45zM311.6 265.9h1.45v1.45h-1.45zM322.6 265.8h1.45v1.45h-1.45zM334.7 265.4h1.45v1.45h-1.45zM285.6 267.4h1.45v1.45h-1.45zM292.3 267.2h1.45v1.45h-1.45zM295.7 267.2h1.45v1.45h-1.45zM301.4 267.2h1.45v1.45h-1.45zM303.9 267.0h1.45v1.45h-1.45zM311.5 267.1h1.45v1.45h-1.45zM323.7 267.0h1.45v1.45h-1.45zM334.1 267.5h1.45v1.45h-1.45zM292.7 268.6h1.45v1.45h-1.45zM316.0 268.6h1.45v1.45h-1.45zM329.2 268.8h1.45v1.45h-1.45zM331.6 268.6h1.45v1.45h-1.45zM290.7 270.8h1.45v1.45h-1.45zM296.1 270.5h1.45v1.45h-1.45zM297.5 270.2h1.45v1.45h-1.45zM313.3 270.6h1.45v1.45h-1.45zM321.2 270.1h1.45v1.45h-1.45zM326.2 270.5h1.45v1.45h-1.45zM335.2 270.6h1.45v1.45h-1.45zM293.4 272.3h1.45v1.45h-1.45zM312.9 271.8h1.45v1.45h-1.45zM314.7 271.8h1.45v1.45h-1.45zM318.8 271.8h1.45v1.45h-1.45zM306.1 273.8h1.45v1.45h-1.45zM308.7 274.0h1.45v1.45h-1.45zM308.2 222.3h1.45v1.45h-1.45zM409.4 91.7h1.45v1.45h-1.45zM411.0 92.2h1.45v1.45h-1.45zM415.0 92.1h1.45v1.45h-1.45zM422.8 91.7h1.45v1.45h-1.45zM433.9 91.9h1.45v1.45h-1.45zM439.9 92.1h1.45v1.45h-1.45zM441.3 91.8h1.45v1.45h-1.45zM456.8 95.3h1.45v1.45h-1.45zM460.8 95.1h1.45v1.45h-1.45zM468.2 95.2h1.45v1.45h-1.45zM474.2 95.3h1.45v1.45h-1.45zM475.7 95.4h1.45v1.45h-1.45zM477.6 95.4h1.45v1.45h-1.45zM483.5 94.9h1.45v1.45h-1.45zM485.1 94.9h1.45v1.45h-1.45zM500.6 95.2h1.45v1.45h-1.45zM506.2 95.3h1.45v1.45h-1.45zM510.0 95.2h1.45v1.45h-1.45zM49.0 76.2h1.45v1.45h-1.45zM56.6 76.7h1.45v1.45h-1.45zM62.5 76.5h1.45v1.45h-1.45zM64.2 76.2h1.45v1.45h-1.45z" fill="#4a4a4a"/>
<path d="M53.9 34.6h1.45v1.45h-1.45zM53.8 39.3h1.45v1.45h-1.45zM53.4 63.4h1.45v1.45h-1.45zM50.3 66.6h1.45v1.45h-1.45zM54.9 66.5h1.45v1.45h-1.45zM63.4 66.5h1.45v1.45h-1.45zM47.5 67.8h1.45v1.45h-1.45zM49.7 71.3h1.45v1.45h-1.45zM55.7 71.5h1.45v1.45h-1.45zM29.4 74.8h1.45v1.45h-1.45zM70.7 74.2h1.45v1.45h-1.45zM28.4 75.9h1.45v1.45h-1.45zM32.4 76.0h1.45v1.45h-1.45zM58.9 76.1h1.45v1.45h-1.45zM60.4 76.1h1.45v1.45h-1.45zM30.2 77.6h1.45v1.45h-1.45zM32.3 77.9h1.45v1.45h-1.45zM49.4 77.3h1.45v1.45h-1.45zM61.0 78.0h1.45v1.45h-1.45zM29.5 79.4h1.45v1.45h-1.45zM40.0 79.5h1.45v1.45h-1.45zM56.6 79.4h1.45v1.45h-1.45zM69.4 79.6h1.45v1.45h-1.45zM72.2 79.2h1.45v1.45h-1.45zM77.3 79.6h1.45v1.45h-1.45zM53.2 80.8h1.45v1.45h-1.45zM59.6 80.8h1.45v1.45h-1.45zM75.4 80.7h1.45v1.45h-1.45zM30.8 82.4h1.45v1.45h-1.45zM52.1 82.6h1.45v1.45h-1.45zM55.3 82.5h1.45v1.45h-1.45zM65.5 82.6h1.45v1.45h-1.45zM70.2 82.5h1.45v1.45h-1.45zM74.7 82.7h1.45v1.45h-1.45zM33.5 83.8h1.45v1.45h-1.45zM36.2 83.8h1.45v1.45h-1.45zM62.2 83.8h1.45v1.45h-1.45zM70.4 84.2h1.45v1.45h-1.45zM72.9 84.1h1.45v1.45h-1.45zM39.7 85.8h1.45v1.45h-1.45zM43.6 85.4h1.45v1.45h-1.45zM48.2 85.9h1.45v1.45h-1.45zM53.4 85.4h1.45v1.45h-1.45zM58.2 85.5h1.45v1.45h-1.45zM72.4 85.7h1.45v1.45h-1.45zM50.6 87.4h1.45v1.45h-1.45zM57.6 87.0h1.45v1.45h-1.45zM61.1 87.2h1.45v1.45h-1.45zM63.4 87.3h1.45v1.45h-1.45zM70.0 87.3h1.45v1.45h-1.45zM57.2 88.9h1.45v1.45h-1.45zM44.1 90.3h1.45v1.45h-1.45zM48.7 90.8h1.45v1.45h-1.45zM52.3 90.7h1.45v1.45h-1.45zM62.3 91.8h1.45v1.45h-1.45zM123.0 43.7h1.45v1.45h-1.45zM125.0 45.0h1.45v1.45h-1.45zM121.7 49.7h1.45v1.45h-1.45zM122.4 53.0h1.45v1.45h-1.45zM119.8 55.8h1.45v1.45h-1.45zM119.8 59.6h1.45v1.45h-1.45zM121.7 61.2h1.45v1.45h-1.45zM130.6 62.8h1.45v1.45h-1.45zM122.3 63.9h1.45v1.45h-1.45zM112.4 67.1h1.45v1.45h-1.45zM117.0 67.2h1.45v1.45h-1.45zM133.7 67.3h1.45v1.45h-1.45zM115.3 69.1h1.45v1.45h-1.45zM119.2 68.7h1.45v1.45h-1.45zM134.9 68.8h1.45v1.45h-1.45zM110.0 72.5h1.45v1.45h-1.45zM114.4 72.2h1.45v1.45h-1.45zM125.6 71.9h1.45v1.45h-1.45zM134.3 72.3h1.45v1.45h-1.45zM142.0 71.8h1.45v1.45h-1.45zM103.0 73.8h1.45v1.45h-1.45zM111.5 73.7h1.45v1.45h-1.45zM130.0 73.9h1.45v1.45h-1.45zM134.0 73.6h1.45v1.45h-1.45zM136.6 73.7h1.45v1.45h-1.45zM144.7 73.7h1.45v1.45h-1.45zM111.4 75.2h1.45v1.45h-1.45zM120.8 76.8h1.45v1.45h-1.45zM146.3 77.0h1.45v1.45h-1.45zM149.4 76.9h1.45v1.45h-1.45zM103.0 78.3h1.45v1.45h-1.45zM115.3 78.5h1.45v1.45h-1.45zM132.8 78.2h1.45v1.45h-1.45zM140.1 78.8h1.45v1.45h-1.45zM136.4 80.2h1.45v1.45h-1.45zM144.1 80.2h1.45v1.45h-1.45zM114.0 81.7h1.45v1.45h-1.45zM140.0 81.6h1.45v1.45h-1.45zM148.9 81.7h1.45v1.45h-1.45zM108.9 83.6h1.45v1.45h-1.45zM129.7 83.0h1.45v1.45h-1.45zM141.1 83.2h1.45v1.45h-1.45zM142.9 83.6h1.45v1.45h-1.45zM100.9 84.9h1.45v1.45h-1.45zM118.6 84.8h1.45v1.45h-1.45zM121.4 85.3h1.45v1.45h-1.45zM141.0 85.1h1.45v1.45h-1.45zM150.7 85.3h1.45v1.45h-1.45zM122.6 86.5h1.45v1.45h-1.45zM140.3 86.6h1.45v1.45h-1.45zM114.3 88.2h1.45v1.45h-1.45zM142.8 88.0h1.45v1.45h-1.45zM139.1 89.6h1.45v1.45h-1.45zM112.4 91.5h1.45v1.45h-1.45zM119.9 91.6h1.45v1.45h-1.45zM127.1 91.2h1.45v1.45h-1.45zM120.3 92.9h1.45v1.45h-1.45zM134.5 93.1h1.45v1.45h-1.45zM114.7 94.5h1.45v1.45h-1.45zM123.1 94.6h1.45v1.45h-1.45zM123.5 107.4h1.45v1.45h-1.45zM124.0 119.0h1.45v1.45h-1.45zM241.2 42.5h1.45v1.45h-1.45zM235.5 43.7h1.45v1.45h-1.45zM228.1 49.2h1.45v1.45h-1.45zM243.9 48.8h1.45v1.45h-1.45zM229.4 50.2h1.45v1.45h-1.45zM235.1 50.6h1.45v1.45h-1.45zM244.3 50.2h1.45v1.45h-1.45zM245.3 52.0h1.45v1.45h-1.45zM249.8 51.7h1.45v1.45h-1.45zM231.2 53.7h1.45v1.45h-1.45zM227.1 55.4h1.45v1.45h-1.45zM234.9 55.3h1.45v1.45h-1.45zM237.5 55.3h1.45v1.45h-1.45zM232.0 56.9h1.45v1.45h-1.45zM238.0 57.2h1.45v1.45h-1.45zM240.7 57.1h1.45v1.45h-1.45zM250.1 56.6h1.45v1.45h-1.45zM253.7 57.1h1.45v1.45h-1.45zM234.5 58.5h1.45v1.45h-1.45zM222.4 59.8h1.45v1.45h-1.45zM240.0 59.8h1.45v1.45h-1.45zM248.7 60.3h1.45v1.45h-1.45zM254.6 60.1h1.45v1.45h-1.45zM232.1 61.8h1.45v1.45h-1.45zM240.9 62.0h1.45v1.45h-1.45zM222.8 63.5h1.45v1.45h-1.45zM234.9 63.4h1.45v1.45h-1.45zM222.9 65.0h1.45v1.45h-1.45zM226.2 68.0h1.45v1.45h-1.45zM229.7 67.7h1.45v1.45h-1.45zM236.7 68.1h1.45v1.45h-1.45zM253.6 67.9h1.45v1.45h-1.45zM227.0 69.4h1.45v1.45h-1.45zM235.2 69.4h1.45v1.45h-1.45zM247.2 70.0h1.45v1.45h-1.45zM227.0 72.5h1.45v1.45h-1.45zM232.7 74.6h1.45v1.45h-1.45zM252.0 74.8h1.45v1.45h-1.45zM226.3 76.3h1.45v1.45h-1.45zM239.7 77.8h1.45v1.45h-1.45zM228.9 79.2h1.45v1.45h-1.45zM230.2 80.8h1.45v1.45h-1.45zM237.2 81.0h1.45v1.45h-1.45zM249.9 80.6h1.45v1.45h-1.45zM237.1 82.7h1.45v1.45h-1.45zM249.5 82.8h1.45v1.45h-1.45zM231.0 83.8h1.45v1.45h-1.45zM244.4 84.2h1.45v1.45h-1.45zM234.6 85.9h1.45v1.45h-1.45zM240.5 85.6h1.45v1.45h-1.45zM243.2 87.5h1.45v1.45h-1.45zM247.7 87.0h1.45v1.45h-1.45zM231.4 88.8h1.45v1.45h-1.45zM240.8 93.5h1.45v1.45h-1.45zM239.7 95.0h1.45v1.45h-1.45zM237.7 97.0h1.45v1.45h-1.45zM241.7 96.8h1.45v1.45h-1.45zM237.1 99.9h1.45v1.45h-1.45zM306.8 40.3h1.45v1.45h-1.45zM304.3 43.5h1.45v1.45h-1.45zM306.3 44.9h1.45v1.45h-1.45zM308.7 46.2h1.45v1.45h-1.45zM315.4 46.2h1.45v1.45h-1.45zM298.5 48.2h1.45v1.45h-1.45zM307.1 48.3h1.45v1.45h-1.45zM310.4 48.1h1.45v1.45h-1.45zM326.2 47.9h1.45v1.45h-1.45zM288.6 49.8h1.45v1.45h-1.45zM298.7 49.8h1.45v1.45h-1.45zM315.9 50.0h1.45v1.45h-1.45zM324.9 49.6h1.45v1.45h-1.45zM331.4 49.7h1.45v1.45h-1.45zM293.5 51.3h1.45v1.45h-1.45zM313.1 51.6h1.45v1.45h-1.45zM317.1 51.4h1.45v1.45h-1.45zM299.2 52.7h1.45v1.45h-1.45zM303.4 53.0h1.45v1.45h-1.45zM310.2 52.9h1.45v1.45h-1.45zM290.6 54.6h1.45v1.45h-1.45zM317.3 54.3h1.45v1.45h-1.45zM320.9 55.7h1.45v1.45h-1.45zM330.4 55.9h1.45v1.45h-1.45zM314.0 57.9h1.45v1.45h-1.45zM327.7 57.8h1.45v1.45h-1.45zM297.6 59.1h1.45v1.45h-1.45zM304.0 61.0h1.45v1.45h-1.45zM328.5 60.6h1.45v1.45h-1.45zM312.6 62.5h1.45v1.45h-1.45zM308.6 65.8h1.45v1.45h-1.45zM301.8 67.2h1.45v1.45h-1.45zM315.4 69.2h1.45v1.45h-1.45zM321.2 68.9h1.45v1.45h-1.45zM317.1 70.1h1.45v1.45h-1.45zM294.5 71.9h1.45v1.45h-1.45zM297.0 72.3h1.45v1.45h-1.45zM303.1 73.4h1.45v1.45h-1.45zM314.6 73.4h1.45v1.45h-1.45zM300.1 77.0h1.45v1.45h-1.45zM295.8 78.8h1.45v1.45h-1.45zM308.4 78.5h1.45v1.45h-1.45zM316.2 80.3h1.45v1.45h-1.45zM319.9 80.3h1.45v1.45h-1.45zM301.9 81.8h1.45v1.45h-1.45zM306.2 81.5h1.45v1.45h-1.45zM310.3 81.9h1.45v1.45h-1.45zM319.2 81.9h1.45v1.45h-1.45zM302.1 83.6h1.45v1.45h-1.45zM308.2 88.4h1.45v1.45h-1.45zM314.7 87.9h1.45v1.45h-1.45zM306.4 90.0h1.45v1.45h-1.45zM314.9 91.2h1.45v1.45h-1.45zM307.2 96.4h1.45v1.45h-1.45zM414.3 49.8h1.45v1.45h-1.45zM416.7 71.9h1.45v1.45h-1.45zM410.3 75.0h1.45v1.45h-1.45zM417.8 75.5h1.45v1.45h-1.45zM420.1 76.7h1.45v1.45h-1.45zM401.0 80.0h1.45v1.45h-1.45zM406.6 79.8h1.45v1.45h-1.45zM411.2 79.8h1.45v1.45h-1.45zM426.3 80.0h1.45v1.45h-1.45zM406.8 81.8h1.45v1.45h-1.45zM411.6 82.0h1.45v1.45h-1.45zM420.1 81.4h1.45v1.45h-1.45zM423.2 81.9h1.45v1.45h-1.45zM387.4 83.3h1.45v1.45h-1.45zM398.6 83.0h1.45v1.45h-1.45zM437.6 83.3h1.45v1.45h-1.45zM416.9 84.8h1.45v1.45h-1.45zM420.0 84.8h1.45v1.45h-1.45zM415.1 86.5h1.45v1.45h-1.45zM422.1 86.4h1.45v1.45h-1.45zM430.9 86.2h1.45v1.45h-1.45zM391.3 88.0h1.45v1.45h-1.45zM395.5 88.3h1.45v1.45h-1.45zM400.7 88.0h1.45v1.45h-1.45zM408.6 88.3h1.45v1.45h-1.45zM423.8 88.1h1.45v1.45h-1.45zM426.5 88.0h1.45v1.45h-1.45zM438.0 88.4h1.45v1.45h-1.45zM389.9 89.8h1.45v1.45h-1.45zM396.7 89.7h1.45v1.45h-1.45zM437.7 89.9h1.45v1.45h-1.45zM397.1 91.1h1.45v1.45h-1.45zM403.4 91.2h1.45v1.45h-1.45zM424.2 91.5h1.45v1.45h-1.45zM391.3 93.0h1.45v1.45h-1.45zM400.8 93.1h1.45v1.45h-1.45zM428.0 92.8h1.45v1.45h-1.45zM434.1 92.8h1.45v1.45h-1.45zM395.7 94.2h1.45v1.45h-1.45zM398.6 98.0h1.45v1.45h-1.45zM417.6 97.7h1.45v1.45h-1.45zM426.4 97.8h1.45v1.45h-1.45zM399.0 99.2h1.45v1.45h-1.45zM405.6 99.1h1.45v1.45h-1.45zM426.9 99.1h1.45v1.45h-1.45zM431.5 99.3h1.45v1.45h-1.45zM406.7 101.1h1.45v1.45h-1.45zM417.5 100.9h1.45v1.45h-1.45zM396.7 102.7h1.45v1.45h-1.45zM407.8 102.2h1.45v1.45h-1.45zM422.7 102.4h1.45v1.45h-1.45zM402.6 104.1h1.45v1.45h-1.45zM405.9 107.3h1.45v1.45h-1.45zM411.5 107.1h1.45v1.45h-1.45zM414.9 107.2h1.45v1.45h-1.45zM421.0 107.6h1.45v1.45h-1.45zM409.3 108.9h1.45v1.45h-1.45zM419.5 108.6h1.45v1.45h-1.45zM408.8 110.4h1.45v1.45h-1.45zM413.6 116.6h1.45v1.45h-1.45zM483.6 58.3h1.45v1.45h-1.45zM480.9 71.2h1.45v1.45h-1.45zM487.7 72.3h1.45v1.45h-1.45zM478.3 75.5h1.45v1.45h-1.45zM476.4 78.6h1.45v1.45h-1.45zM480.9 80.2h1.45v1.45h-1.45zM491.1 80.6h1.45v1.45h-1.45zM496.5 83.6h1.45v1.45h-1.45zM466.0 85.4h1.45v1.45h-1.45zM478.9 85.1h1.45v1.45h-1.45zM460.8 87.1h1.45v1.45h-1.45zM469.8 86.6h1.45v1.45h-1.45zM488.6 87.0h1.45v1.45h-1.45zM495.1 86.8h1.45v1.45h-1.45zM497.3 87.0h1.45v1.45h-1.45zM506.9 86.6h1.45v1.45h-1.45zM460.9 88.5h1.45v1.45h-1.45zM484.9 88.3h1.45v1.45h-1.45zM463.9 89.9h1.45v1.45h-1.45zM470.7 89.9h1.45v1.45h-1.45zM481.6 90.1h1.45v1.45h-1.45zM494.8 90.2h1.45v1.45h-1.45zM489.9 91.5h1.45v1.45h-1.45zM494.2 91.6h1.45v1.45h-1.45zM475.0 93.6h1.45v1.45h-1.45zM502.3 93.2h1.45v1.45h-1.45zM506.5 93.5h1.45v1.45h-1.45zM461.0 94.8h1.45v1.45h-1.45zM466.6 94.9h1.45v1.45h-1.45zM479.9 94.6h1.45v1.45h-1.45zM491.7 94.7h1.45v1.45h-1.45zM494.1 95.1h1.45v1.45h-1.45zM506.4 94.9h1.45v1.45h-1.45zM477.3 96.5h1.45v1.45h-1.45zM487.2 96.2h1.45v1.45h-1.45zM490.0 96.2h1.45v1.45h-1.45zM504.3 96.6h1.45v1.45h-1.45zM509.8 97.8h1.45v1.45h-1.45zM465.4 100.0h1.45v1.45h-1.45zM480.8 99.3h1.45v1.45h-1.45zM470.5 101.5h1.45v1.45h-1.45zM489.0 101.4h1.45v1.45h-1.45zM500.5 101.0h1.45v1.45h-1.45zM508.4 101.3h1.45v1.45h-1.45zM477.4 102.6h1.45v1.45h-1.45zM492.6 102.9h1.45v1.45h-1.45zM475.9 104.6h1.45v1.45h-1.45zM480.1 104.3h1.45v1.45h-1.45zM483.5 106.0h1.45v1.45h-1.45zM482.8 107.4h1.45v1.45h-1.45zM52.4 231.6h1.45v1.45h-1.45zM51.0 234.8h1.45v1.45h-1.45zM57.1 236.1h1.45v1.45h-1.45zM57.4 237.8h1.45v1.45h-1.45zM51.7 249.1h1.45v1.45h-1.45zM50.6 253.9h1.45v1.45h-1.45zM60.4 254.2h1.45v1.45h-1.45zM46.2 255.7h1.45v1.45h-1.45zM50.5 255.1h1.45v1.45h-1.45zM55.4 255.2h1.45v1.45h-1.45zM45.2 257.4h1.45v1.45h-1.45zM59.6 256.8h1.45v1.45h-1.45zM45.1 259.0h1.45v1.45h-1.45zM62.3 258.6h1.45v1.45h-1.45zM58.4 263.7h1.45v1.45h-1.45zM55.0 266.4h1.45v1.45h-1.45zM61.9 266.3h1.45v1.45h-1.45zM65.9 266.4h1.45v1.45h-1.45zM45.0 268.0h1.45v1.45h-1.45zM52.8 268.2h1.45v1.45h-1.45zM48.7 270.0h1.45v1.45h-1.45zM50.7 269.9h1.45v1.45h-1.45zM55.6 269.8h1.45v1.45h-1.45zM66.5 269.8h1.45v1.45h-1.45zM57.0 271.2h1.45v1.45h-1.45zM61.5 271.5h1.45v1.45h-1.45zM64.0 271.4h1.45v1.45h-1.45zM61.2 274.8h1.45v1.45h-1.45zM43.5 276.2h1.45v1.45h-1.45zM51.3 277.7h1.45v1.45h-1.45zM64.3 278.0h1.45v1.45h-1.45zM64.4 281.2h1.45v1.45h-1.45zM56.4 282.5h1.45v1.45h-1.45zM54.9 284.1h1.45v1.45h-1.45zM53.2 287.5h1.45v1.45h-1.45zM54.4 290.7h1.45v1.45h-1.45zM55.1 297.1h1.45v1.45h-1.45zM119.3 233.8h1.45v1.45h-1.45zM118.1 235.3h1.45v1.45h-1.45zM123.2 235.6h1.45v1.45h-1.45zM121.1 236.8h1.45v1.45h-1.45zM126.9 238.4h1.45v1.45h-1.45zM119.7 240.4h1.45v1.45h-1.45zM122.8 240.1h1.45v1.45h-1.45zM115.0 241.7h1.45v1.45h-1.45zM114.6 243.4h1.45v1.45h-1.45zM127.8 243.5h1.45v1.45h-1.45zM130.0 245.0h1.45v1.45h-1.45zM116.0 246.6h1.45v1.45h-1.45zM126.2 246.9h1.45v1.45h-1.45zM121.9 248.3h1.45v1.45h-1.45zM117.6 251.4h1.45v1.45h-1.45zM127.1 251.4h1.45v1.45h-1.45zM129.7 251.5h1.45v1.45h-1.45zM119.9 256.0h1.45v1.45h-1.45zM134.2 257.6h1.45v1.45h-1.45zM117.4 259.2h1.45v1.45h-1.45zM124.1 259.3h1.45v1.45h-1.45zM131.3 262.4h1.45v1.45h-1.45zM122.3 264.5h1.45v1.45h-1.45zM126.0 264.3h1.45v1.45h-1.45zM130.4 264.5h1.45v1.45h-1.45zM108.9 265.9h1.45v1.45h-1.45zM124.0 265.7h1.45v1.45h-1.45zM128.5 265.5h1.45v1.45h-1.45zM134.1 265.7h1.45v1.45h-1.45zM120.9 267.4h1.45v1.45h-1.45zM139.2 267.1h1.45v1.45h-1.45zM115.4 269.0h1.45v1.45h-1.45zM124.6 269.0h1.45v1.45h-1.45zM111.0 270.9h1.45v1.45h-1.45zM135.4 270.5h1.45v1.45h-1.45zM111.8 271.9h1.45v1.45h-1.45zM121.7 272.4h1.45v1.45h-1.45zM133.9 272.3h1.45v1.45h-1.45zM139.2 273.8h1.45v1.45h-1.45zM108.1 275.4h1.45v1.45h-1.45zM113.1 275.4h1.45v1.45h-1.45zM138.4 275.7h1.45v1.45h-1.45zM119.7 277.1h1.45v1.45h-1.45zM123.2 277.2h1.45v1.45h-1.45zM112.8 278.3h1.45v1.45h-1.45zM122.0 278.8h1.45v1.45h-1.45zM138.7 278.3h1.45v1.45h-1.45zM123.5 281.5h1.45v1.45h-1.45zM115.9 283.6h1.45v1.45h-1.45zM118.9 283.4h1.45v1.45h-1.45zM129.6 283.5h1.45v1.45h-1.45zM132.6 283.5h1.45v1.45h-1.45zM123.3 284.7h1.45v1.45h-1.45zM129.6 285.1h1.45v1.45h-1.45zM118.8 286.9h1.45v1.45h-1.45zM125.6 286.8h1.45v1.45h-1.45zM118.5 288.1h1.45v1.45h-1.45zM125.1 288.4h1.45v1.45h-1.45zM120.5 289.8h1.45v1.45h-1.45zM125.3 289.5h1.45v1.45h-1.45zM119.5 292.8h1.45v1.45h-1.45zM121.1 297.5h1.45v1.45h-1.45zM126.1 298.0h1.45v1.45h-1.45zM239.6 245.2h1.45v1.45h-1.45zM236.3 246.6h1.45v1.45h-1.45zM240.8 248.4h1.45v1.45h-1.45zM239.1 249.6h1.45v1.45h-1.45zM239.7 251.3h1.45v1.45h-1.45zM235.0 253.4h1.45v1.45h-1.45zM237.4 254.5h1.45v1.45h-1.45zM236.6 256.2h1.45v1.45h-1.45zM244.3 256.4h1.45v1.45h-1.45zM227.8 259.2h1.45v1.45h-1.45zM239.0 259.7h1.45v1.45h-1.45zM242.2 259.5h1.45v1.45h-1.45zM252.4 259.4h1.45v1.45h-1.45zM227.6 260.8h1.45v1.45h-1.45zM236.2 260.9h1.45v1.45h-1.45zM246.8 260.9h1.45v1.45h-1.45zM248.4 261.4h1.45v1.45h-1.45zM211.7 262.5h1.45v1.45h-1.45zM230.4 262.6h1.45v1.45h-1.45zM234.2 262.7h1.45v1.45h-1.45zM235.7 262.8h1.45v1.45h-1.45zM240.6 262.9h1.45v1.45h-1.45zM247.6 262.5h1.45v1.45h-1.45zM252.2 262.9h1.45v1.45h-1.45zM258.0 262.4h1.45v1.45h-1.45zM263.7 262.8h1.45v1.45h-1.45zM265.8 262.9h1.45v1.45h-1.45zM215.0 264.2h1.45v1.45h-1.45zM219.4 264.1h1.45v1.45h-1.45zM229.6 264.0h1.45v1.45h-1.45zM237.6 264.2h1.45v1.45h-1.45zM250.2 264.6h1.45v1.45h-1.45zM253.5 264.5h1.45v1.45h-1.45zM216.7 266.0h1.45v1.45h-1.45zM231.0 265.6h1.45v1.45h-1.45zM252.7 265.7h1.45v1.45h-1.45zM212.5 267.5h1.45v1.45h-1.45zM214.6 267.5h1.45v1.45h-1.45zM220.8 267.8h1.45v1.45h-1.45zM244.6 267.5h1.45v1.45h-1.45zM246.7 267.3h1.45v1.45h-1.45zM232.7 268.8h1.45v1.45h-1.45zM244.7 268.8h1.45v1.45h-1.45zM260.0 269.2h1.45v1.45h-1.45zM241.0 271.0h1.45v1.45h-1.45zM233.2 272.3h1.45v1.45h-1.45zM236.6 272.1h1.45v1.45h-1.45zM238.4 217.9h1.45v1.45h-1.45zM238.4 233.9h1.45v1.45h-1.45zM238.4 237.0h1.45v1.45h-1.45zM308.5 240.2h1.45v1.45h-1.45zM308.6 243.3h1.45v1.45h-1.45zM309.3 248.0h1.45v1.45h-1.45zM310.2 249.4h1.45v1.45h-1.45zM309.1 251.0h1.45v1.45h-1.45zM312.9 253.0h1.45v1.45h-1.45zM305.9 256.1h1.45v1.45h-1.45zM294.3 262.3h1.45v1.45h-1.45zM312.6 262.4h1.45v1.45h-1.45zM315.4 262.6h1.45v1.45h-1.45zM287.3 264.3h1.45v1.45h-1.45zM289.4 264.4h1.45v1.45h-1.45zM306.7 264.3h1.45v1.45h-1.45zM311.6 263.9h1.45v1.45h-1.45zM319.8 264.4h1.45v1.45h-1.45zM294.6 265.5h1.45v1.45h-1.45zM303.6 266.0h1.45v1.45h-1.45zM305.3 265.6h1.45v1.45h-1.45zM318.6 265.5h1.45v1.45h-1.45zM327.2 265.8h1.45v1.45h-1.45zM329.3 265.4h1.45v1.45h-1.45zM287.0 267.5h1.45v1.45h-1.45zM306.5 267.1h1.45v1.45h-1.45zM330.0 267.3h1.45v1.45h-1.45zM281.4 269.2h1.45v1.45h-1.45zM289.6 268.8h1.45v1.45h-1.45zM294.9 269.1h1.45v1.45h-1.45zM302.7 268.7h1.45v1.45h-1.45zM308.8 268.9h1.45v1.45h-1.45zM311.9 268.6h1.45v1.45h-1.45zM319.0 268.6h1.45v1.45h-1.45zM323.6 268.6h1.45v1.45h-1.45zM327.0 268.7h1.45v1.45h-1.45zM282.9 270.5h1.45v1.45h-1.45zM287.8 270.5h1.45v1.45h-1.45zM301.3 270.3h1.45v1.45h-1.45zM306.7 270.5h1.45v1.45h-1.45zM311.1 270.4h1.45v1.45h-1.45zM316.2 270.2h1.45v1.45h-1.45zM331.8 270.5h1.45v1.45h-1.45zM298.9 272.2h1.45v1.45h-1.45zM302.2 272.0h1.45v1.45h-1.45zM305.8 271.9h1.45v1.45h-1.45zM303.0 274.0h1.45v1.45h-1.45zM312.8 273.7h1.45v1.45h-1.45zM305.7 276.7h1.45v1.45h-1.45zM307.1 280.0h1.45v1.45h-1.45zM308.2 232.5h1.45v1.45h-1.45zM416.7 91.8h1.45v1.45h-1.45zM426.3 92.2h1.45v1.45h-1.45zM430.4 91.9h1.45v1.45h-1.45zM432.3 91.7h1.45v1.45h-1.45zM462.6 94.9h1.45v1.45h-1.45zM466.0 95.2h1.45v1.45h-1.45zM481.6 95.0h1.45v1.45h-1.45zM487.0 95.0h1.45v1.45h-1.45zM504.2 94.9h1.45v1.45h-1.45zM508.1 94.9h1.45v1.45h-1.45zM51.3 76.2h1.45v1.45h-1.45zM66.1 76.6h1.45v1.45h-1.45zM72.3 76.5h1.45v1.45h-1.45zM73.8 76.6h1.45v1.45h-1.45zM76.0 76.3h1.45v1.45h-1.45z" fill="#707070"/>
</svg></body></html>
